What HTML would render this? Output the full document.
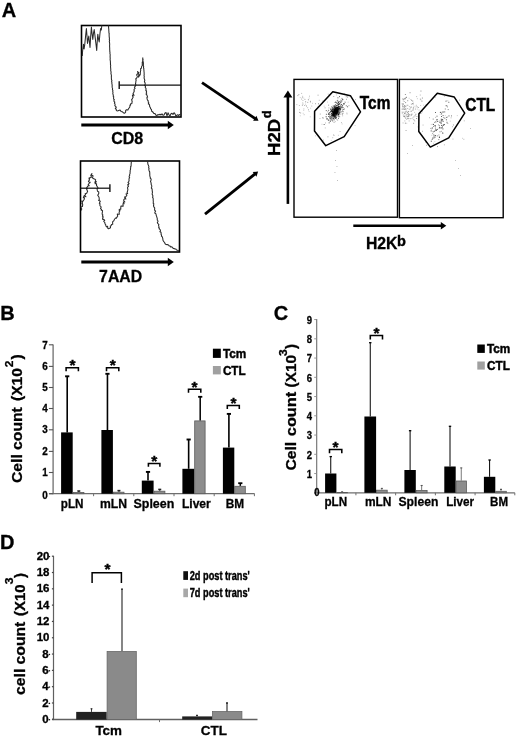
<!DOCTYPE html>
<html><head><meta charset="utf-8"><title>figure</title>
<style>html,body{margin:0;padding:0;background:#fff;font-family:"Liberation Sans",sans-serif;}svg{display:block;will-change:transform;opacity:0.999}</style></head>
<body>
<svg width="520" height="737" viewBox="0 0 520 737" font-family="Liberation Sans, sans-serif" font-weight="bold">
<rect width="520" height="737" fill="#fff"/>
<defs><clipPath id="c1"><rect x="81.5" y="25.5" width="99.5" height="91.5"/></clipPath><clipPath id="c2"><rect x="80.5" y="161" width="99" height="91"/></clipPath></defs>
<text x="1.7" y="17.3" font-size="20" text-anchor="start" fill="#000" stroke="#000" stroke-width="0.3" >A</text>
<text x="0.3" y="319.8" font-size="20" text-anchor="start" fill="#000" stroke="#000" stroke-width="0.3" >B</text>
<text x="273.8" y="320.2" font-size="20" text-anchor="start" fill="#000" stroke="#000" stroke-width="0.3" >C</text>
<text x="0.1" y="548.8" font-size="20" text-anchor="start" fill="#000" stroke="#000" stroke-width="0.3" >D</text>
<rect x="81.50" y="25.50" width="99.50" height="91.50" fill="none" stroke="#000" stroke-width="1.6"/>
<polyline points="82.3,56.0 82.6,51.0 83.5,44.2 84.1,49.0 84.7,45.0 85.6,36.0 86.4,28.5 87.0,36.0 87.5,43.5 88.2,39.0 88.8,36.0 89.4,42.0 90.0,47.5 90.7,36.0 91.4,27.1 92.1,34.0 92.8,39.5 93.5,33.0 94.2,29.5 95.0,36.0 95.7,42.0 96.2,46.0 96.7,50.5 97.2,42.0 97.8,34.2 98.5,39.0 99.2,42.0 99.9,34.0 100.6,28.5 101.3,30.0 102.1,23.0 108.3,23.0 108.3,23.0 108.4,23.9 108.4,24.8 108.5,25.8 108.6,26.7 108.6,27.6 108.7,28.5 108.8,29.4 108.8,30.5 108.9,31.4 108.9,32.1 109.0,33.2 109.2,33.9 109.1,35.0 109.2,36.0 109.2,37.0 109.4,37.8 109.4,38.8 109.3,39.5 109.6,40.4 109.3,41.4 109.5,42.3 109.6,43.2 109.7,44.2 109.6,45.2 109.6,46.1 109.6,47.0 109.7,47.7 109.7,48.9 109.7,49.7 109.8,50.5 109.8,51.5 110.0,52.2 109.9,53.4 110.2,54.3 110.1,55.0 110.2,56.1 110.0,56.8 110.2,57.7 110.2,58.7 110.1,59.8 110.3,60.7 110.4,61.4 110.4,62.3 110.5,63.3 110.4,64.2 110.7,65.3 110.6,66.2 110.5,67.0 110.7,67.9 110.7,68.8 110.8,69.7 110.7,70.6 111.0,71.6 111.1,72.3 110.9,73.3 111.1,74.0 111.3,75.1 111.5,76.0 111.3,76.7 111.4,77.8 111.4,78.7 111.5,79.7 111.9,80.3 111.6,81.6 111.9,82.3 111.8,83.1 112.0,84.0 112.1,85.0 112.2,85.9 112.1,86.7 112.3,87.9 112.6,88.6 112.4,89.5 112.9,90.5 112.7,91.3 113.0,92.3 112.8,93.3 112.9,94.1 113.4,95.2 113.1,96.1 113.7,96.7 113.6,97.7 113.6,99.1 114.3,99.5 113.9,100.7 114.0,101.4 114.9,102.1 114.4,103.1 115.0,104.0 115.1,104.9 114.8,105.7 116.3,107.1 115.3,108.5 116.3,109.2 116.1,109.8 117.1,110.9 118.1,110.8 119.3,110.3 120.1,110.1 121.1,111.5 122.2,111.7 123.8,113.1 124.7,113.2 125.6,112.2 125.7,110.3 126.5,109.7 127.9,110.0 128.1,109.6 129.0,108.1 129.1,107.9 129.8,107.0 130.0,105.1 130.6,105.2 130.4,104.0 131.9,103.5 132.1,101.5 132.2,101.5 131.6,99.7 132.1,99.2 132.5,98.3 133.2,96.9 132.4,95.9 132.7,95.0 134.1,95.3 133.0,93.7 133.5,92.7 133.8,92.2 134.3,91.0 134.0,90.0 134.1,89.3 135.1,88.4 134.4,87.1 134.9,86.7 135.7,85.6 135.8,84.9 135.5,83.6 135.7,83.0 135.8,82.0 136.0,80.5 136.2,80.2 135.7,78.8 136.4,78.4 137.3,77.0 137.4,76.6 136.7,75.1 136.8,74.5 137.6,73.8 138.0,72.7 137.5,71.6 138.5,72.4 138.8,72.8 138.2,73.9 139.2,74.6 138.5,75.9 138.6,77.2 138.9,76.3 139.8,75.4 140.3,74.2 140.3,72.6 140.4,72.1 140.6,70.7 140.8,70.5 140.5,68.7 141.4,68.3 141.5,66.7 142.0,66.0 142.3,65.0 142.2,64.1 142.3,63.2 142.2,62.3 142.7,61.4 142.7,60.4 142.7,59.6 142.8,58.6 142.8,57.7 142.7,58.5 143.1,59.6 142.8,60.5 143.1,61.5 143.3,62.3 143.4,63.3 143.4,64.1 143.3,65.4 143.6,66.2 143.6,67.2 143.5,67.9 143.9,68.7 143.8,69.8 144.0,70.7 144.0,71.9 144.2,73.0 144.1,73.7 144.2,74.8 144.0,75.6 144.3,76.6 144.1,77.4 144.2,78.7 144.5,79.1 144.8,80.4 144.5,81.5 144.4,81.9 145.1,82.8 145.2,84.1 144.7,85.3 145.4,86.1 145.5,86.6 145.2,87.3 146.1,88.8 146.0,89.3 145.8,90.5 146.6,91.0 146.3,92.2 146.7,93.1 146.0,94.0 146.7,94.6 147.2,96.0 147.6,97.1 146.9,97.5 147.1,98.8 147.5,100.1 148.3,100.8 148.1,102.0 148.8,102.8 148.3,103.9 149.2,104.2 149.6,105.4 149.7,106.8 150.2,107.2 150.6,108.6 151.5,109.6 151.5,110.0 151.7,111.2 152.9,112.0 153.2,112.7 153.8,113.4 154.6,113.5 155.6,114.2 156.0,115.3 157.1,115.5 157.9,114.5 159.1,114.9 160.0,114.3 161.0,115.0 162.0,113.9 163.0,115.3 164.0,115.0 165.0,112.9 166.0,112.5 167.0,115.9 168.0,112.8 169.0,114.8 170.0,115.9 171.0,113.8 172.0,113.3 173.0,114.5 174.0,112.7 175.0,113.9 175.9,116.1 176.8,115.3 177.8,114.7 178.7,115.6 179.6,114.5 180.6,114.5" fill="none" stroke="#2a2a2a" stroke-width="1.05" stroke-linejoin="round" clip-path="url(#c1)" />
<line x1="119.2" y1="85.1" x2="181" y2="85.1" stroke="#111" stroke-width="1.25" />
<line x1="119.2" y1="81.3" x2="119.2" y2="89.1" stroke="#111" stroke-width="1.4" />
<line x1="81.3" y1="125" x2="168.8" y2="125" stroke="#000" stroke-width="3" />
<polygon points="173.8,125 167.8,120.75 167.8,129.25" fill="#000"/>
<text x="111.2" y="144.1" font-size="16" text-anchor="start" fill="#000" stroke="#000" stroke-width="0.3" >CD8</text>
<rect x="80.50" y="161.00" width="99.00" height="91.00" fill="none" stroke="#000" stroke-width="1.6"/>
<polyline points="81.1,210.3 81.6,209.7 81.7,208.7 80.5,206.8 82.5,206.4 82.7,204.4 81.9,203.5 82.5,203.2 81.7,201.0 82.6,201.6 84.1,199.5 84.4,198.7 84.3,197.6 83.3,197.8 84.0,195.8 86.0,196.8 84.7,195.6 85.6,194.4 85.2,193.7 86.7,193.3 87.6,191.2 86.7,189.5 86.5,188.1 87.3,188.6 86.7,187.7 87.8,186.1 89.3,185.8 88.2,184.6 89.4,183.0 90.2,182.2 89.9,182.8 88.4,181.3 89.4,180.1 89.0,178.1 89.6,178.8 89.9,177.5 91.5,177.2 90.7,175.1 91.2,174.8 92.0,173.6 91.2,175.1 92.9,175.7 93.1,175.7 92.5,177.9 93.3,178.6 93.7,178.7 94.9,179.2 95.7,179.8 94.9,182.7 96.3,181.5 95.1,183.8 96.6,183.7 96.5,185.7 96.9,186.0 97.8,187.5 98.1,187.9 97.0,188.7 97.4,190.7 97.8,191.4 98.7,191.7 98.8,193.2 98.7,193.6 97.7,195.2 97.9,195.5 98.7,196.7 98.9,197.0 99.1,197.7 99.3,199.7 98.5,200.3 99.4,200.7 100.3,201.3 99.3,203.3 100.2,203.9 99.7,204.8 100.1,205.8 100.8,206.5 101.2,207.0 100.5,208.4 101.6,209.6 101.2,210.1 102.6,210.7 102.4,211.9 102.2,213.2 102.1,214.2 102.9,214.8 102.4,216.2 103.3,217.0 102.6,217.9 102.7,219.4 103.8,219.3 104.7,220.4 103.7,221.2 104.5,222.3 104.8,222.3 105.0,223.8 105.6,224.5 106.0,226.0 106.4,226.9 107.6,226.3 107.8,228.4 108.4,228.8 110.2,228.0 110.5,227.4 110.3,226.0 111.2,225.7 111.4,224.5 112.2,224.4 112.8,224.1 112.6,223.4 112.7,221.6 113.6,221.0 113.8,220.8 114.7,218.9 115.5,218.4 115.9,217.9 116.4,218.2 117.2,216.7 117.7,216.2 117.3,214.1 118.2,214.2 119.3,214.2 119.1,212.0 120.0,210.7 119.0,210.0 120.4,208.8 120.8,209.2 120.8,207.3 120.9,206.1 122.8,206.1 123.2,206.2 122.9,203.8 124.1,203.8 123.3,202.1 124.9,202.0 123.7,200.5 123.7,199.8 124.8,198.6 125.9,199.1 124.5,197.0 125.5,197.1 126.9,195.2 126.0,193.9 127.7,193.5 127.1,192.7 127.3,192.0 127.7,190.3 127.9,189.7 127.7,188.7 127.5,187.9 127.9,186.8 128.5,186.3 127.6,184.8 128.3,184.7 129.0,183.5 128.0,182.6 128.7,181.6 129.1,180.8 129.0,180.1 129.0,178.7 129.6,177.7 129.2,177.2 129.2,176.2 129.8,175.1 129.6,174.4 130.2,173.1 130.0,172.4 130.2,171.3 130.1,170.5 130.6,169.4 130.4,168.8 130.8,167.9 130.5,166.9 131.1,166.2 131.1,164.8 131.2,164.0 131.2,163.3 131.3,162.2 131.4,161.4 131.5,160.4 131.6,159.5 132.5,159.5 133.4,159.5 134.3,159.5 135.2,159.5 136.1,159.5 137.0,159.5 137.9,159.5 138.8,159.5 139.8,159.5 140.7,159.5 141.6,159.5 142.5,159.5 143.4,159.5 144.3,159.5 145.2,159.5 146.1,159.5 147.0,159.5 147.2,160.4 147.5,161.4 147.7,162.2 147.8,163.2 147.9,164.2 148.4,165.2 148.7,166.1 148.9,166.7 148.6,167.9 149.1,168.5 148.8,169.7 149.0,170.3 149.3,171.3 149.8,172.1 149.6,173.1 149.9,173.8 149.7,175.1 149.9,175.8 150.0,176.8 150.4,177.7 150.3,178.4 151.1,179.0 151.1,180.0 150.5,181.4 150.8,181.9 151.2,183.6 151.1,184.2 151.4,184.9 151.8,185.9 151.7,187.0 151.3,187.9 152.0,188.9 152.2,189.8 152.2,191.0 152.5,192.2 152.3,193.2 152.1,194.0 152.5,195.1 152.9,195.8 152.8,196.7 152.5,197.3 153.1,198.1 153.2,199.1 153.2,200.7 153.3,201.1 153.3,202.1 153.2,203.4 153.8,203.8 153.5,205.4 153.8,206.0 153.6,206.6 154.8,208.0 154.6,208.4 154.6,210.2 154.9,210.5 155.6,211.1 154.8,212.7 155.0,213.2 156.0,213.9 156.1,214.8 156.5,216.1 156.7,216.6 157.2,218.4 157.3,218.9 157.2,219.9 157.8,220.5 158.0,221.6 157.3,222.8 157.6,223.3 158.9,224.3 158.5,225.4 158.9,226.3 158.7,227.7 159.5,228.0 159.1,228.8 160.2,229.6 160.5,231.0 159.9,231.7 161.0,232.2 161.1,233.1 161.1,234.6 161.6,234.9 161.4,236.0 162.3,236.8 162.5,237.6 162.8,238.6 162.9,239.8 163.2,240.8 163.8,241.6 164.6,242.5 165.0,243.6 165.5,244.3 166.6,244.6 167.4,244.6 168.4,244.9 169.2,246.0 170.1,246.1 170.7,247.1 171.8,246.8 172.6,247.4 173.2,248.6 174.1,248.5 175.0,248.9 175.9,249.1 176.6,250.0 177.4,250.2 178.3,250.6 179.1,251.1" fill="none" stroke="#2a2a2a" stroke-width="1.05" stroke-linejoin="round" clip-path="url(#c2)" />
<line x1="80.7" y1="188.2" x2="109.9" y2="188.2" stroke="#111" stroke-width="1.25" />
<line x1="109.9" y1="184.2" x2="109.9" y2="192" stroke="#111" stroke-width="1.4" />
<line x1="81.3" y1="262" x2="168.8" y2="262" stroke="#000" stroke-width="3" />
<polygon points="173.8,262 167.8,257.75 167.8,266.25" fill="#000"/>
<text x="99.1" y="281.8" font-size="16" text-anchor="start" fill="#000" stroke="#000" stroke-width="0.3"  textLength="43" lengthAdjust="spacingAndGlyphs">7AAD</text>
<line x1="202" y1="82.7" x2="255.5981368138376" y2="118.84316836472945" stroke="#000" stroke-width="2.8" />
<polygon points="258.5,120.8 253.1,120.8 256.4,115.8" fill="#000"/>
<line x1="205" y1="214.2" x2="255.3724802718568" y2="173.69331624089858" stroke="#000" stroke-width="2.8" />
<polygon points="258.1,171.5 256.5,176.7 252.7,172.0" fill="#000"/>
<line x1="287.9" y1="203.9" x2="287.9" y2="96" stroke="#000" stroke-width="2.6" />
<polygon points="287.9,90.5 283.4,97.5 292.4,97.5" fill="#000"/>
<g transform="translate(279.8,155.9) rotate(-90)">
<text transform="translate(0.00,0) scale(1.1625,1)" font-size="16" fill="#000" stroke="#000" stroke-width="0.3">H2D</text>
<text transform="translate(37.60,-8.9) scale(1.0088,1)" font-size="13" fill="#000" stroke="#000" stroke-width="0.4">d</text>
</g>
<rect x="294.00" y="79.40" width="103.50" height="137.80" fill="none" stroke="#000" stroke-width="1.4"/>
<rect x="399.40" y="79.40" width="103.80" height="138.30" fill="none" stroke="#000" stroke-width="1.4"/>
<rect x="333.5" y="120.4" width="0.9" height="0.9" fill="rgb(175,175,175)"/>
<rect x="333.5" y="134.9" width="0.9" height="0.9" fill="rgb(150,150,150)"/>
<rect x="322.6" y="118.1" width="0.9" height="0.9" fill="rgb(195,195,195)"/>
<rect x="340.2" y="102.1" width="0.9" height="0.9" fill="rgb(175,175,175)"/>
<rect x="327.4" y="97.4" width="0.9" height="0.9" fill="rgb(195,195,195)"/>
<rect x="341.0" y="122.2" width="0.9" height="0.9" fill="rgb(175,175,175)"/>
<rect x="354.6" y="125.0" width="0.9" height="0.9" fill="rgb(195,195,195)"/>
<rect x="341.7" y="123.5" width="0.9" height="0.9" fill="rgb(195,195,195)"/>
<rect x="317.6" y="94.7" width="0.9" height="0.9" fill="rgb(150,150,150)"/>
<rect x="339.6" y="131.1" width="0.9" height="0.9" fill="rgb(175,175,175)"/>
<rect x="333.1" y="134.3" width="0.9" height="0.9" fill="rgb(195,195,195)"/>
<rect x="324.6" y="107.4" width="0.9" height="0.9" fill="rgb(150,150,150)"/>
<rect x="342.2" y="115.4" width="0.9" height="0.9" fill="rgb(175,175,175)"/>
<rect x="331.7" y="120.0" width="0.9" height="0.9" fill="rgb(150,150,150)"/>
<rect x="344.0" y="108.4" width="0.9" height="0.9" fill="rgb(150,150,150)"/>
<rect x="336.0" y="94.5" width="0.9" height="0.9" fill="rgb(195,195,195)"/>
<rect x="346.4" y="112.6" width="0.9" height="0.9" fill="rgb(175,175,175)"/>
<rect x="330.8" y="139.9" width="0.9" height="0.9" fill="rgb(195,195,195)"/>
<rect x="315.0" y="103.3" width="0.9" height="0.9" fill="rgb(150,150,150)"/>
<rect x="334.3" y="141.0" width="0.9" height="0.9" fill="rgb(175,175,175)"/>
<rect x="332.2" y="120.7" width="0.9" height="0.9" fill="rgb(150,150,150)"/>
<rect x="346.9" y="106.2" width="0.9" height="0.9" fill="rgb(150,150,150)"/>
<rect x="327.8" y="93.7" width="0.9" height="0.9" fill="rgb(175,175,175)"/>
<rect x="346.1" y="98.8" width="0.9" height="0.9" fill="rgb(150,150,150)"/>
<rect x="344.0" y="93.5" width="0.9" height="0.9" fill="rgb(175,175,175)"/>
<rect x="347.7" y="101.7" width="0.9" height="0.9" fill="rgb(195,195,195)"/>
<rect x="322.7" y="117.9" width="0.9" height="0.9" fill="rgb(195,195,195)"/>
<rect x="346.6" y="113.5" width="0.9" height="0.9" fill="rgb(175,175,175)"/>
<rect x="319.8" y="113.6" width="0.9" height="0.9" fill="rgb(150,150,150)"/>
<rect x="315.0" y="135.4" width="0.9" height="0.9" fill="rgb(195,195,195)"/>
<rect x="327.5" y="136.4" width="0.9" height="0.9" fill="rgb(150,150,150)"/>
<rect x="322.7" y="141.8" width="0.9" height="0.9" fill="rgb(195,195,195)"/>
<rect x="341.3" y="97.9" width="0.9" height="0.9" fill="rgb(150,150,150)"/>
<rect x="323.7" y="105.7" width="0.9" height="0.9" fill="rgb(195,195,195)"/>
<rect x="328.5" y="107.5" width="0.9" height="0.9" fill="rgb(150,150,150)"/>
<rect x="318.0" y="103.2" width="0.9" height="0.9" fill="rgb(195,195,195)"/>
<rect x="325.0" y="122.5" width="0.9" height="0.9" fill="rgb(175,175,175)"/>
<rect x="340.5" y="99.2" width="0.9" height="0.9" fill="rgb(195,195,195)"/>
<rect x="334.8" y="121.2" width="0.9" height="0.9" fill="rgb(175,175,175)"/>
<rect x="322.5" y="100.6" width="0.9" height="0.9" fill="rgb(150,150,150)"/>
<rect x="348.5" y="105.2" width="0.9" height="0.9" fill="rgb(150,150,150)"/>
<rect x="321.5" y="123.8" width="0.9" height="0.9" fill="rgb(195,195,195)"/>
<rect x="323.1" y="139.6" width="0.9" height="0.9" fill="rgb(175,175,175)"/>
<rect x="339.7" y="113.7" width="0.9" height="0.9" fill="rgb(150,150,150)"/>
<rect x="319.5" y="118.1" width="0.9" height="0.9" fill="rgb(175,175,175)"/>
<rect x="324.8" y="127.5" width="0.9" height="0.9" fill="rgb(175,175,175)"/>
<rect x="332.3" y="137.3" width="0.9" height="0.9" fill="rgb(175,175,175)"/>
<rect x="327.0" y="101.6" width="0.9" height="0.9" fill="rgb(195,195,195)"/>
<rect x="355.1" y="99.2" width="0.9" height="0.9" fill="rgb(175,175,175)"/>
<rect x="337.9" y="134.8" width="0.9" height="0.9" fill="rgb(195,195,195)"/>
<rect x="318.0" y="103.4" width="0.9" height="0.9" fill="rgb(150,150,150)"/>
<rect x="345.7" y="96.4" width="0.9" height="0.9" fill="rgb(175,175,175)"/>
<rect x="333.3" y="96.0" width="0.9" height="0.9" fill="rgb(150,150,150)"/>
<rect x="326.6" y="119.0" width="0.9" height="0.9" fill="rgb(150,150,150)"/>
<rect x="318.8" y="99.8" width="0.9" height="0.9" fill="rgb(175,175,175)"/>
<rect x="312.0" y="102.8" width="0.9" height="0.9" fill="rgb(195,195,195)"/>
<rect x="298.9" y="105.0" width="0.9" height="0.9" fill="rgb(175,175,175)"/>
<rect x="305.1" y="103.7" width="0.9" height="0.9" fill="rgb(195,195,195)"/>
<rect x="305.8" y="105.1" width="0.9" height="0.9" fill="rgb(175,175,175)"/>
<rect x="310.2" y="107.7" width="0.9" height="0.9" fill="rgb(195,195,195)"/>
<rect x="316.4" y="108.2" width="0.9" height="0.9" fill="rgb(195,195,195)"/>
<rect x="301.2" y="92.9" width="0.9" height="0.9" fill="rgb(175,175,175)"/>
<rect x="299.0" y="111.9" width="0.9" height="0.9" fill="rgb(150,150,150)"/>
<rect x="307.9" y="99.1" width="0.9" height="0.9" fill="rgb(150,150,150)"/>
<rect x="308.7" y="97.6" width="0.9" height="0.9" fill="rgb(195,195,195)"/>
<rect x="301.2" y="98.6" width="0.9" height="0.9" fill="rgb(150,150,150)"/>
<rect x="302.3" y="102.3" width="0.9" height="0.9" fill="rgb(195,195,195)"/>
<rect x="307.2" y="107.3" width="0.9" height="0.9" fill="rgb(175,175,175)"/>
<rect x="303.3" y="97.6" width="0.9" height="0.9" fill="rgb(195,195,195)"/>
<rect x="301.9" y="97.2" width="0.9" height="0.9" fill="rgb(175,175,175)"/>
<rect x="305.2" y="101.7" width="0.9" height="0.9" fill="rgb(195,195,195)"/>
<rect x="311.3" y="105.6" width="0.9" height="0.9" fill="rgb(175,175,175)"/>
<rect x="317.7" y="106.3" width="0.9" height="0.9" fill="rgb(150,150,150)"/>
<rect x="296.4" y="104.2" width="0.9" height="0.9" fill="rgb(175,175,175)"/>
<rect x="304.0" y="105.0" width="0.9" height="0.9" fill="rgb(175,175,175)"/>
<rect x="308.7" y="111.0" width="0.9" height="0.9" fill="rgb(195,195,195)"/>
<rect x="309.8" y="116.4" width="0.9" height="0.9" fill="rgb(195,195,195)"/>
<rect x="309.9" y="100.8" width="0.9" height="0.9" fill="rgb(150,150,150)"/>
<rect x="300.2" y="112.5" width="0.9" height="0.9" fill="rgb(150,150,150)"/>
<rect x="297.4" y="95.2" width="0.9" height="0.9" fill="rgb(150,150,150)"/>
<rect x="308.0" y="99.6" width="0.9" height="0.9" fill="rgb(195,195,195)"/>
<rect x="307.3" y="101.9" width="0.9" height="0.9" fill="rgb(150,150,150)"/>
<rect x="309.0" y="95.7" width="0.9" height="0.9" fill="rgb(175,175,175)"/>
<rect x="305.2" y="101.1" width="0.9" height="0.9" fill="rgb(175,175,175)"/>
<rect x="303.4" y="108.5" width="0.9" height="0.9" fill="rgb(175,175,175)"/>
<rect x="299.1" y="109.3" width="0.9" height="0.9" fill="rgb(195,195,195)"/>
<rect x="299.8" y="115.4" width="0.9" height="0.9" fill="rgb(195,195,195)"/>
<rect x="301.9" y="104.8" width="0.9" height="0.9" fill="rgb(150,150,150)"/>
<rect x="302.7" y="112.8" width="0.9" height="0.9" fill="rgb(195,195,195)"/>
<rect x="302.2" y="95.8" width="0.9" height="0.9" fill="rgb(175,175,175)"/>
<rect x="299.8" y="97.2" width="0.9" height="0.9" fill="rgb(195,195,195)"/>
<rect x="308.0" y="109.4" width="0.9" height="0.9" fill="rgb(150,150,150)"/>
<rect x="304.5" y="98.9" width="0.9" height="0.9" fill="rgb(150,150,150)"/>
<rect x="306.0" y="106.1" width="0.9" height="0.9" fill="rgb(195,195,195)"/>
<rect x="298.4" y="94.2" width="0.9" height="0.9" fill="rgb(150,150,150)"/>
<rect x="302.5" y="100.0" width="0.9" height="0.9" fill="rgb(175,175,175)"/>
<rect x="303.7" y="114.3" width="0.9" height="0.9" fill="rgb(175,175,175)"/>
<rect x="302.5" y="103.6" width="0.9" height="0.9" fill="rgb(150,150,150)"/>
<rect x="303.3" y="109.9" width="0.9" height="0.9" fill="rgb(195,195,195)"/>
<rect x="310.1" y="101.5" width="0.9" height="0.9" fill="rgb(150,150,150)"/>
<rect x="333.7" y="119.3" width="0.9" height="0.9" fill="rgb(100,100,100)"/>
<rect x="345.1" y="101.8" width="0.9" height="0.9" fill="rgb(160,160,160)"/>
<rect x="340.0" y="107.6" width="0.9" height="0.9" fill="rgb(60,60,60)"/>
<rect x="334.7" y="116.6" width="0.9" height="0.9" fill="rgb(130,130,130)"/>
<rect x="331.6" y="118.2" width="0.9" height="0.9" fill="rgb(100,100,100)"/>
<rect x="343.8" y="103.5" width="0.9" height="0.9" fill="rgb(60,60,60)"/>
<rect x="342.5" y="111.1" width="0.9" height="0.9" fill="rgb(60,60,60)"/>
<rect x="339.0" y="103.5" width="0.9" height="0.9" fill="rgb(130,130,130)"/>
<rect x="339.2" y="113.4" width="0.9" height="0.9" fill="rgb(60,60,60)"/>
<rect x="335.5" y="112.0" width="0.9" height="0.9" fill="rgb(160,160,160)"/>
<rect x="335.8" y="114.6" width="0.9" height="0.9" fill="rgb(130,130,130)"/>
<rect x="334.7" y="111.5" width="0.9" height="0.9" fill="rgb(60,60,60)"/>
<rect x="334.9" y="111.7" width="0.9" height="0.9" fill="rgb(130,130,130)"/>
<rect x="327.2" y="111.4" width="0.9" height="0.9" fill="rgb(160,160,160)"/>
<rect x="340.3" y="108.0" width="0.9" height="0.9" fill="rgb(160,160,160)"/>
<rect x="338.0" y="103.8" width="0.9" height="0.9" fill="rgb(60,60,60)"/>
<rect x="332.7" y="108.2" width="0.9" height="0.9" fill="rgb(130,130,130)"/>
<rect x="334.5" y="105.1" width="0.9" height="0.9" fill="rgb(100,100,100)"/>
<rect x="328.4" y="119.8" width="0.9" height="0.9" fill="rgb(130,130,130)"/>
<rect x="336.6" y="113.6" width="0.9" height="0.9" fill="rgb(100,100,100)"/>
<rect x="336.2" y="112.0" width="0.9" height="0.9" fill="rgb(130,130,130)"/>
<rect x="332.6" y="112.9" width="0.9" height="0.9" fill="rgb(60,60,60)"/>
<rect x="330.8" y="117.3" width="0.9" height="0.9" fill="rgb(60,60,60)"/>
<rect x="334.3" y="111.6" width="0.9" height="0.9" fill="rgb(160,160,160)"/>
<rect x="323.7" y="124.1" width="0.9" height="0.9" fill="rgb(60,60,60)"/>
<rect x="330.6" y="118.4" width="0.9" height="0.9" fill="rgb(60,60,60)"/>
<rect x="337.5" y="104.1" width="0.9" height="0.9" fill="rgb(160,160,160)"/>
<rect x="337.9" y="112.8" width="0.9" height="0.9" fill="rgb(100,100,100)"/>
<rect x="336.4" y="119.2" width="0.9" height="0.9" fill="rgb(160,160,160)"/>
<rect x="333.6" y="112.6" width="0.9" height="0.9" fill="rgb(160,160,160)"/>
<rect x="325.8" y="116.5" width="0.9" height="0.9" fill="rgb(100,100,100)"/>
<rect x="325.8" y="110.2" width="0.9" height="0.9" fill="rgb(60,60,60)"/>
<rect x="338.0" y="110.0" width="0.9" height="0.9" fill="rgb(130,130,130)"/>
<rect x="336.3" y="113.7" width="0.9" height="0.9" fill="rgb(160,160,160)"/>
<rect x="342.2" y="105.1" width="0.9" height="0.9" fill="rgb(60,60,60)"/>
<rect x="335.2" y="104.0" width="0.9" height="0.9" fill="rgb(100,100,100)"/>
<rect x="328.2" y="110.2" width="0.9" height="0.9" fill="rgb(60,60,60)"/>
<rect x="334.9" y="115.3" width="0.9" height="0.9" fill="rgb(100,100,100)"/>
<rect x="327.8" y="119.6" width="0.9" height="0.9" fill="rgb(100,100,100)"/>
<rect x="328.1" y="119.7" width="0.9" height="0.9" fill="rgb(100,100,100)"/>
<rect x="340.3" y="111.9" width="0.9" height="0.9" fill="rgb(130,130,130)"/>
<rect x="336.4" y="105.6" width="0.9" height="0.9" fill="rgb(130,130,130)"/>
<rect x="336.0" y="106.8" width="0.9" height="0.9" fill="rgb(100,100,100)"/>
<rect x="335.8" y="107.5" width="0.9" height="0.9" fill="rgb(100,100,100)"/>
<rect x="337.2" y="109.2" width="0.9" height="0.9" fill="rgb(160,160,160)"/>
<rect x="343.3" y="103.8" width="0.9" height="0.9" fill="rgb(160,160,160)"/>
<rect x="329.4" y="117.4" width="0.9" height="0.9" fill="rgb(100,100,100)"/>
<rect x="333.6" y="118.2" width="0.9" height="0.9" fill="rgb(60,60,60)"/>
<rect x="340.9" y="105.8" width="0.9" height="0.9" fill="rgb(130,130,130)"/>
<rect x="339.1" y="96.2" width="0.9" height="0.9" fill="rgb(60,60,60)"/>
<rect x="330.5" y="110.1" width="0.9" height="0.9" fill="rgb(130,130,130)"/>
<rect x="330.3" y="118.2" width="0.9" height="0.9" fill="rgb(100,100,100)"/>
<rect x="333.8" y="106.5" width="0.9" height="0.9" fill="rgb(60,60,60)"/>
<rect x="340.2" y="104.2" width="0.9" height="0.9" fill="rgb(160,160,160)"/>
<rect x="338.0" y="109.0" width="0.9" height="0.9" fill="rgb(100,100,100)"/>
<rect x="337.7" y="109.6" width="0.9" height="0.9" fill="rgb(130,130,130)"/>
<rect x="336.2" y="107.8" width="0.9" height="0.9" fill="rgb(60,60,60)"/>
<rect x="341.7" y="106.8" width="0.9" height="0.9" fill="rgb(60,60,60)"/>
<rect x="333.3" y="108.3" width="0.9" height="0.9" fill="rgb(160,160,160)"/>
<rect x="333.7" y="115.3" width="0.9" height="0.9" fill="rgb(100,100,100)"/>
<rect x="334.7" y="110.7" width="0.9" height="0.9" fill="rgb(60,60,60)"/>
<rect x="335.2" y="107.5" width="0.9" height="0.9" fill="rgb(160,160,160)"/>
<rect x="335.3" y="114.6" width="0.9" height="0.9" fill="rgb(100,100,100)"/>
<rect x="333.5" y="111.6" width="0.9" height="0.9" fill="rgb(60,60,60)"/>
<rect x="335.8" y="111.8" width="0.9" height="0.9" fill="rgb(160,160,160)"/>
<rect x="332.7" y="112.8" width="0.9" height="0.9" fill="rgb(130,130,130)"/>
<rect x="334.3" y="107.6" width="0.9" height="0.9" fill="rgb(60,60,60)"/>
<rect x="330.6" y="107.7" width="0.9" height="0.9" fill="rgb(160,160,160)"/>
<rect x="339.1" y="108.1" width="0.9" height="0.9" fill="rgb(130,130,130)"/>
<rect x="331.6" y="106.5" width="0.9" height="0.9" fill="rgb(160,160,160)"/>
<rect x="337.6" y="110.3" width="0.9" height="0.9" fill="rgb(130,130,130)"/>
<rect x="336.1" y="111.7" width="0.9" height="0.9" fill="rgb(130,130,130)"/>
<rect x="342.1" y="98.7" width="0.9" height="0.9" fill="rgb(60,60,60)"/>
<rect x="342.6" y="112.7" width="0.9" height="0.9" fill="rgb(130,130,130)"/>
<rect x="336.2" y="116.3" width="0.9" height="0.9" fill="rgb(100,100,100)"/>
<rect x="331.7" y="115.0" width="0.9" height="0.9" fill="rgb(160,160,160)"/>
<rect x="329.0" y="113.3" width="0.9" height="0.9" fill="rgb(160,160,160)"/>
<rect x="336.0" y="109.0" width="0.9" height="0.9" fill="rgb(60,60,60)"/>
<rect x="333.2" y="109.2" width="0.9" height="0.9" fill="rgb(160,160,160)"/>
<rect x="329.7" y="119.0" width="0.9" height="0.9" fill="rgb(160,160,160)"/>
<rect x="338.1" y="106.2" width="0.9" height="0.9" fill="rgb(130,130,130)"/>
<rect x="337.0" y="103.5" width="0.9" height="0.9" fill="rgb(160,160,160)"/>
<rect x="338.9" y="103.1" width="0.9" height="0.9" fill="rgb(60,60,60)"/>
<rect x="327.9" y="114.1" width="0.9" height="0.9" fill="rgb(60,60,60)"/>
<rect x="329.6" y="116.9" width="0.9" height="0.9" fill="rgb(60,60,60)"/>
<rect x="333.6" y="122.1" width="0.9" height="0.9" fill="rgb(160,160,160)"/>
<rect x="333.7" y="113.5" width="0.9" height="0.9" fill="rgb(160,160,160)"/>
<rect x="330.2" y="116.5" width="0.9" height="0.9" fill="rgb(160,160,160)"/>
<rect x="337.7" y="104.4" width="0.9" height="0.9" fill="rgb(160,160,160)"/>
<rect x="331.4" y="113.4" width="0.9" height="0.9" fill="rgb(130,130,130)"/>
<rect x="333.0" y="114.5" width="0.9" height="0.9" fill="rgb(130,130,130)"/>
<rect x="328.8" y="112.4" width="0.9" height="0.9" fill="rgb(60,60,60)"/>
<rect x="338.0" y="106.4" width="0.9" height="0.9" fill="rgb(60,60,60)"/>
<rect x="331.1" y="112.6" width="0.9" height="0.9" fill="rgb(160,160,160)"/>
<rect x="338.8" y="106.3" width="0.9" height="0.9" fill="rgb(160,160,160)"/>
<rect x="347.2" y="96.7" width="0.9" height="0.9" fill="rgb(130,130,130)"/>
<rect x="344.3" y="101.6" width="0.9" height="0.9" fill="rgb(160,160,160)"/>
<rect x="333.0" y="109.7" width="0.9" height="0.9" fill="rgb(100,100,100)"/>
<rect x="337.2" y="108.1" width="0.9" height="0.9" fill="rgb(160,160,160)"/>
<rect x="345.8" y="105.3" width="0.9" height="0.9" fill="rgb(100,100,100)"/>
<rect x="333.3" y="111.8" width="0.9" height="0.9" fill="rgb(160,160,160)"/>
<rect x="333.8" y="113.9" width="0.9" height="0.9" fill="rgb(60,60,60)"/>
<rect x="335.4" y="112.8" width="0.9" height="0.9" fill="rgb(130,130,130)"/>
<rect x="332.2" y="118.4" width="0.9" height="0.9" fill="rgb(160,160,160)"/>
<rect x="329.4" y="114.9" width="0.9" height="0.9" fill="rgb(160,160,160)"/>
<rect x="335.1" y="117.9" width="0.9" height="0.9" fill="rgb(100,100,100)"/>
<rect x="339.3" y="101.2" width="0.9" height="0.9" fill="rgb(100,100,100)"/>
<rect x="331.9" y="116.6" width="0.9" height="0.9" fill="rgb(130,130,130)"/>
<rect x="332.8" y="106.4" width="0.9" height="0.9" fill="rgb(130,130,130)"/>
<rect x="338.3" y="113.5" width="0.9" height="0.9" fill="rgb(100,100,100)"/>
<rect x="328.5" y="114.1" width="0.9" height="0.9" fill="rgb(100,100,100)"/>
<rect x="338.2" y="103.7" width="0.9" height="0.9" fill="rgb(100,100,100)"/>
<rect x="335.6" y="108.8" width="0.9" height="0.9" fill="rgb(60,60,60)"/>
<rect x="338.1" y="106.2" width="0.9" height="0.9" fill="rgb(60,60,60)"/>
<rect x="333.5" y="111.4" width="0.9" height="0.9" fill="rgb(130,130,130)"/>
<rect x="337.1" y="108.5" width="0.9" height="0.9" fill="rgb(100,100,100)"/>
<rect x="329.8" y="116.5" width="0.9" height="0.9" fill="rgb(130,130,130)"/>
<rect x="332.6" y="115.2" width="0.9" height="0.9" fill="rgb(130,130,130)"/>
<rect x="336.0" y="117.3" width="0.9" height="0.9" fill="rgb(60,60,60)"/>
<rect x="333.8" y="106.7" width="0.9" height="0.9" fill="rgb(100,100,100)"/>
<rect x="331.8" y="119.3" width="0.9" height="0.9" fill="rgb(160,160,160)"/>
<rect x="334.2" y="106.9" width="0.9" height="0.9" fill="rgb(130,130,130)"/>
<rect x="338.3" y="115.1" width="0.9" height="0.9" fill="rgb(100,100,100)"/>
<rect x="333.7" y="115.4" width="0.9" height="0.9" fill="rgb(60,60,60)"/>
<rect x="333.1" y="115.1" width="0.9" height="0.9" fill="rgb(60,60,60)"/>
<rect x="332.9" y="117.3" width="0.9" height="0.9" fill="rgb(160,160,160)"/>
<rect x="338.0" y="115.7" width="0.9" height="0.9" fill="rgb(60,60,60)"/>
<rect x="338.1" y="117.8" width="0.9" height="0.9" fill="rgb(60,60,60)"/>
<rect x="331.2" y="110.5" width="0.9" height="0.9" fill="rgb(130,130,130)"/>
<rect x="336.5" y="111.7" width="0.9" height="0.9" fill="rgb(130,130,130)"/>
<rect x="331.8" y="111.6" width="0.9" height="0.9" fill="rgb(60,60,60)"/>
<rect x="336.4" y="114.3" width="0.9" height="0.9" fill="rgb(130,130,130)"/>
<rect x="331.7" y="120.1" width="0.9" height="0.9" fill="rgb(130,130,130)"/>
<rect x="333.6" y="114.1" width="0.9" height="0.9" fill="rgb(100,100,100)"/>
<rect x="343.2" y="103.2" width="0.9" height="0.9" fill="rgb(60,60,60)"/>
<rect x="335.2" y="114.9" width="0.9" height="0.9" fill="rgb(160,160,160)"/>
<rect x="332.8" y="105.2" width="0.9" height="0.9" fill="rgb(130,130,130)"/>
<rect x="333.5" y="106.3" width="0.9" height="0.9" fill="rgb(100,100,100)"/>
<rect x="341.8" y="108.7" width="0.9" height="0.9" fill="rgb(130,130,130)"/>
<rect x="334.6" y="107.7" width="0.9" height="0.9" fill="rgb(60,60,60)"/>
<rect x="330.4" y="116.2" width="0.9" height="0.9" fill="rgb(60,60,60)"/>
<rect x="328.1" y="113.3" width="0.9" height="0.9" fill="rgb(60,60,60)"/>
<rect x="331.9" y="113.4" width="0.9" height="0.9" fill="rgb(60,60,60)"/>
<rect x="335.9" y="113.5" width="0.9" height="0.9" fill="rgb(60,60,60)"/>
<rect x="335.9" y="108.0" width="0.9" height="0.9" fill="rgb(100,100,100)"/>
<rect x="343.1" y="104.0" width="0.9" height="0.9" fill="rgb(160,160,160)"/>
<rect x="337.3" y="111.3" width="0.9" height="0.9" fill="rgb(130,130,130)"/>
<rect x="333.1" y="108.1" width="0.9" height="0.9" fill="rgb(130,130,130)"/>
<rect x="334.2" y="107.2" width="0.9" height="0.9" fill="rgb(100,100,100)"/>
<rect x="331.5" y="116.8" width="0.9" height="0.9" fill="rgb(60,60,60)"/>
<rect x="327.9" y="109.7" width="0.9" height="0.9" fill="rgb(160,160,160)"/>
<rect x="328.2" y="104.7" width="0.9" height="0.9" fill="rgb(130,130,130)"/>
<rect x="335.2" y="102.1" width="0.9" height="0.9" fill="rgb(60,60,60)"/>
<rect x="337.5" y="97.4" width="0.9" height="0.9" fill="rgb(60,60,60)"/>
<rect x="329.7" y="118.0" width="0.9" height="0.9" fill="rgb(60,60,60)"/>
<rect x="333.7" y="115.9" width="0.9" height="0.9" fill="rgb(100,100,100)"/>
<rect x="337.0" y="111.1" width="0.9" height="0.9" fill="rgb(160,160,160)"/>
<rect x="332.1" y="110.7" width="0.9" height="0.9" fill="rgb(160,160,160)"/>
<rect x="334.0" y="114.7" width="0.9" height="0.9" fill="rgb(60,60,60)"/>
<rect x="330.9" y="119.1" width="0.9" height="0.9" fill="rgb(130,130,130)"/>
<rect x="328.4" y="113.4" width="0.9" height="0.9" fill="rgb(100,100,100)"/>
<rect x="337.8" y="101.3" width="0.9" height="0.9" fill="rgb(60,60,60)"/>
<rect x="326.3" y="118.3" width="0.9" height="0.9" fill="rgb(60,60,60)"/>
<rect x="336.2" y="112.5" width="0.9" height="0.9" fill="rgb(130,130,130)"/>
<rect x="337.8" y="110.6" width="0.9" height="0.9" fill="rgb(160,160,160)"/>
<rect x="332.4" y="112.6" width="0.9" height="0.9" fill="rgb(100,100,100)"/>
<rect x="336.4" y="105.0" width="0.9" height="0.9" fill="rgb(130,130,130)"/>
<rect x="325.4" y="116.2" width="0.9" height="0.9" fill="rgb(160,160,160)"/>
<rect x="335.3" y="105.0" width="0.9" height="0.9" fill="rgb(160,160,160)"/>
<rect x="336.7" y="105.3" width="0.9" height="0.9" fill="rgb(60,60,60)"/>
<rect x="333.3" y="114.0" width="0.9" height="0.9" fill="rgb(60,60,60)"/>
<rect x="337.1" y="110.5" width="0.9" height="0.9" fill="rgb(160,160,160)"/>
<rect x="340.5" y="100.5" width="0.9" height="0.9" fill="rgb(130,130,130)"/>
<rect x="334.8" y="109.2" width="0.9" height="0.9" fill="rgb(100,100,100)"/>
<rect x="337.3" y="99.8" width="0.9" height="0.9" fill="rgb(130,130,130)"/>
<rect x="333.7" y="114.3" width="0.9" height="0.9" fill="rgb(160,160,160)"/>
<rect x="332.9" y="112.0" width="0.9" height="0.9" fill="rgb(100,100,100)"/>
<rect x="334.2" y="108.9" width="0.9" height="0.9" fill="rgb(100,100,100)"/>
<rect x="322.4" y="117.1" width="0.9" height="0.9" fill="rgb(130,130,130)"/>
<rect x="334.2" y="111.9" width="0.9" height="0.9" fill="rgb(100,100,100)"/>
<rect x="341.5" y="100.5" width="0.9" height="0.9" fill="rgb(100,100,100)"/>
<rect x="335.0" y="108.6" width="0.9" height="0.9" fill="rgb(130,130,130)"/>
<rect x="330.2" y="113.7" width="0.9" height="0.9" fill="rgb(160,160,160)"/>
<rect x="333.9" y="110.3" width="0.9" height="0.9" fill="rgb(130,130,130)"/>
<rect x="337.7" y="107.0" width="0.9" height="0.9" fill="rgb(100,100,100)"/>
<rect x="336.1" y="107.9" width="0.9" height="0.9" fill="rgb(160,160,160)"/>
<rect x="339.6" y="110.5" width="0.9" height="0.9" fill="rgb(160,160,160)"/>
<rect x="343.0" y="107.3" width="0.9" height="0.9" fill="rgb(130,130,130)"/>
<rect x="336.5" y="113.9" width="0.9" height="0.9" fill="rgb(130,130,130)"/>
<rect x="340.2" y="102.4" width="0.9" height="0.9" fill="rgb(60,60,60)"/>
<rect x="335.3" y="117.2" width="0.9" height="0.9" fill="rgb(60,60,60)"/>
<rect x="329.5" y="112.0" width="0.9" height="0.9" fill="rgb(60,60,60)"/>
<rect x="334.8" y="110.5" width="0.9" height="0.9" fill="rgb(160,160,160)"/>
<rect x="331.6" y="109.8" width="0.9" height="0.9" fill="rgb(130,130,130)"/>
<rect x="330.9" y="114.8" width="0.9" height="0.9" fill="rgb(60,60,60)"/>
<rect x="335.3" y="101.4" width="0.9" height="0.9" fill="rgb(100,100,100)"/>
<rect x="336.1" y="107.2" width="0.9" height="0.9" fill="rgb(160,160,160)"/>
<rect x="338.8" y="101.1" width="0.9" height="0.9" fill="rgb(130,130,130)"/>
<rect x="332.2" y="107.9" width="0.9" height="0.9" fill="rgb(60,60,60)"/>
<rect x="337.1" y="111.4" width="0.9" height="0.9" fill="rgb(60,60,60)"/>
<rect x="337.2" y="119.7" width="0.9" height="0.9" fill="rgb(160,160,160)"/>
<rect x="332.6" y="109.5" width="0.9" height="0.9" fill="rgb(160,160,160)"/>
<rect x="337.7" y="108.3" width="0.9" height="0.9" fill="rgb(60,60,60)"/>
<rect x="341.3" y="106.9" width="0.9" height="0.9" fill="rgb(100,100,100)"/>
<rect x="339.2" y="109.4" width="0.9" height="0.9" fill="rgb(160,160,160)"/>
<rect x="333.6" y="111.7" width="0.9" height="0.9" fill="rgb(100,100,100)"/>
<rect x="346.5" y="95.9" width="0.9" height="0.9" fill="rgb(160,160,160)"/>
<rect x="334.9" y="112.3" width="0.9" height="0.9" fill="rgb(160,160,160)"/>
<rect x="336.4" y="107.2" width="0.9" height="0.9" fill="rgb(100,100,100)"/>
<rect x="331.2" y="106.1" width="0.9" height="0.9" fill="rgb(160,160,160)"/>
<rect x="328.7" y="122.4" width="0.9" height="0.9" fill="rgb(60,60,60)"/>
<rect x="331.2" y="109.0" width="0.9" height="0.9" fill="rgb(130,130,130)"/>
<rect x="340.6" y="100.6" width="0.9" height="0.9" fill="rgb(60,60,60)"/>
<rect x="337.0" y="111.5" width="0.9" height="0.9" fill="rgb(130,130,130)"/>
<rect x="333.5" y="111.0" width="0.9" height="0.9" fill="rgb(160,160,160)"/>
<rect x="338.5" y="110.3" width="0.9" height="0.9" fill="rgb(130,130,130)"/>
<rect x="334.2" y="104.9" width="0.9" height="0.9" fill="rgb(100,100,100)"/>
<rect x="338.6" y="112.4" width="0.9" height="0.9" fill="rgb(130,130,130)"/>
<rect x="331.7" y="114.4" width="0.9" height="0.9" fill="rgb(100,100,100)"/>
<rect x="332.7" y="112.8" width="0.9" height="0.9" fill="rgb(100,100,100)"/>
<rect x="334.5" y="111.2" width="0.9" height="0.9" fill="rgb(100,100,100)"/>
<rect x="334.3" y="108.8" width="0.9" height="0.9" fill="rgb(160,160,160)"/>
<rect x="329.0" y="116.2" width="0.9" height="0.9" fill="rgb(130,130,130)"/>
<rect x="343.9" y="103.1" width="0.9" height="0.9" fill="rgb(130,130,130)"/>
<rect x="334.1" y="113.0" width="0.9" height="0.9" fill="rgb(100,100,100)"/>
<rect x="339.1" y="111.8" width="0.9" height="0.9" fill="rgb(60,60,60)"/>
<rect x="332.2" y="113.6" width="0.9" height="0.9" fill="rgb(130,130,130)"/>
<rect x="333.2" y="111.9" width="0.9" height="0.9" fill="rgb(60,60,60)"/>
<rect x="339.2" y="116.3" width="0.9" height="0.9" fill="rgb(100,100,100)"/>
<rect x="333.1" y="108.4" width="0.9" height="0.9" fill="rgb(100,100,100)"/>
<rect x="340.1" y="109.5" width="0.9" height="0.9" fill="rgb(60,60,60)"/>
<rect x="333.0" y="115.8" width="0.9" height="0.9" fill="rgb(100,100,100)"/>
<rect x="337.3" y="115.3" width="0.9" height="0.9" fill="rgb(160,160,160)"/>
<rect x="329.4" y="114.3" width="0.9" height="0.9" fill="rgb(60,60,60)"/>
<rect x="339.5" y="108.7" width="0.9" height="0.9" fill="rgb(60,60,60)"/>
<rect x="339.5" y="108.2" width="0.9" height="0.9" fill="rgb(160,160,160)"/>
<rect x="340.1" y="109.0" width="0.9" height="0.9" fill="rgb(130,130,130)"/>
<rect x="341.8" y="113.6" width="0.9" height="0.9" fill="rgb(60,60,60)"/>
<rect x="334.3" y="110.8" width="0.9" height="0.9" fill="rgb(100,100,100)"/>
<rect x="334.0" y="116.4" width="0.9" height="0.9" fill="rgb(60,60,60)"/>
<rect x="332.6" y="115.8" width="0.9" height="0.9" fill="rgb(160,160,160)"/>
<rect x="332.4" y="108.2" width="0.9" height="0.9" fill="rgb(160,160,160)"/>
<rect x="334.4" y="102.0" width="0.9" height="0.9" fill="rgb(160,160,160)"/>
<rect x="335.0" y="108.3" width="0.9" height="0.9" fill="rgb(60,60,60)"/>
<rect x="336.9" y="103.8" width="0.9" height="0.9" fill="rgb(160,160,160)"/>
<rect x="335.0" y="111.4" width="0.9" height="0.9" fill="rgb(60,60,60)"/>
<rect x="337.6" y="114.5" width="0.9" height="0.9" fill="rgb(160,160,160)"/>
<rect x="331.4" y="108.8" width="0.9" height="0.9" fill="rgb(130,130,130)"/>
<rect x="336.8" y="100.0" width="0.9" height="0.9" fill="rgb(100,100,100)"/>
<rect x="340.0" y="107.4" width="0.9" height="0.9" fill="rgb(160,160,160)"/>
<rect x="338.6" y="104.0" width="0.9" height="0.9" fill="rgb(60,60,60)"/>
<rect x="332.7" y="113.8" width="0.9" height="0.9" fill="rgb(130,130,130)"/>
<rect x="325.9" y="113.8" width="0.9" height="0.9" fill="rgb(60,60,60)"/>
<rect x="340.7" y="101.7" width="0.9" height="0.9" fill="rgb(130,130,130)"/>
<rect x="335.7" y="105.2" width="0.9" height="0.9" fill="rgb(100,100,100)"/>
<rect x="340.6" y="111.3" width="0.9" height="0.9" fill="rgb(60,60,60)"/>
<rect x="335.9" y="107.8" width="0.9" height="0.9" fill="rgb(100,100,100)"/>
<rect x="340.6" y="107.0" width="0.9" height="0.9" fill="rgb(160,160,160)"/>
<rect x="337.9" y="106.3" width="0.9" height="0.9" fill="rgb(130,130,130)"/>
<rect x="337.6" y="107.2" width="0.9" height="0.9" fill="rgb(160,160,160)"/>
<rect x="337.2" y="100.7" width="0.9" height="0.9" fill="rgb(160,160,160)"/>
<rect x="341.7" y="107.1" width="0.9" height="0.9" fill="rgb(100,100,100)"/>
<rect x="336.4" y="109.0" width="0.9" height="0.9" fill="rgb(130,130,130)"/>
<rect x="336.9" y="114.2" width="0.9" height="0.9" fill="rgb(160,160,160)"/>
<rect x="335.8" y="106.9" width="0.9" height="0.9" fill="rgb(60,60,60)"/>
<rect x="342.2" y="109.8" width="0.9" height="0.9" fill="rgb(130,130,130)"/>
<rect x="335.6" y="109.3" width="0.9" height="0.9" fill="rgb(100,100,100)"/>
<rect x="332.6" y="113.7" width="0.9" height="0.9" fill="rgb(60,60,60)"/>
<rect x="331.9" y="111.7" width="0.9" height="0.9" fill="rgb(130,130,130)"/>
<rect x="337.4" y="105.8" width="0.9" height="0.9" fill="rgb(160,160,160)"/>
<rect x="333.6" y="110.0" width="0.9" height="0.9" fill="rgb(160,160,160)"/>
<rect x="334.5" y="113.5" width="0.9" height="0.9" fill="rgb(130,130,130)"/>
<rect x="341.8" y="106.1" width="0.9" height="0.9" fill="rgb(130,130,130)"/>
<rect x="338.2" y="109.7" width="0.9" height="0.9" fill="rgb(130,130,130)"/>
<rect x="333.7" y="107.4" width="0.9" height="0.9" fill="rgb(60,60,60)"/>
<rect x="332.4" y="112.8" width="0.9" height="0.9" fill="rgb(130,130,130)"/>
<rect x="336.0" y="106.9" width="0.9" height="0.9" fill="rgb(100,100,100)"/>
<rect x="338.3" y="113.8" width="0.9" height="0.9" fill="rgb(60,60,60)"/>
<rect x="334.4" y="112.4" width="0.9" height="0.9" fill="rgb(60,60,60)"/>
<rect x="334.3" y="111.7" width="0.9" height="0.9" fill="rgb(130,130,130)"/>
<rect x="331.4" y="115.2" width="0.9" height="0.9" fill="rgb(60,60,60)"/>
<rect x="347.2" y="106.4" width="0.9" height="0.9" fill="rgb(100,100,100)"/>
<rect x="337.6" y="111.4" width="0.9" height="0.9" fill="rgb(60,60,60)"/>
<rect x="343.3" y="109.1" width="0.9" height="0.9" fill="rgb(60,60,60)"/>
<rect x="326.1" y="116.1" width="0.9" height="0.9" fill="rgb(160,160,160)"/>
<rect x="342.4" y="99.2" width="0.9" height="0.9" fill="rgb(60,60,60)"/>
<rect x="340.2" y="109.2" width="0.9" height="0.9" fill="rgb(130,130,130)"/>
<rect x="336.5" y="114.5" width="0.9" height="0.9" fill="rgb(60,60,60)"/>
<rect x="331.2" y="116.2" width="0.9" height="0.9" fill="rgb(100,100,100)"/>
<rect x="328.2" y="116.1" width="0.9" height="0.9" fill="rgb(60,60,60)"/>
<rect x="332.3" y="112.4" width="0.9" height="0.9" fill="rgb(160,160,160)"/>
<rect x="332.4" y="113.7" width="0.9" height="0.9" fill="rgb(100,100,100)"/>
<rect x="338.4" y="112.7" width="0.9" height="0.9" fill="rgb(160,160,160)"/>
<rect x="337.0" y="111.6" width="0.9" height="0.9" fill="rgb(60,60,60)"/>
<rect x="327.1" y="118.3" width="0.9" height="0.9" fill="rgb(100,100,100)"/>
<rect x="336.6" y="115.5" width="0.9" height="0.9" fill="rgb(160,160,160)"/>
<rect x="333.8" y="106.2" width="0.9" height="0.9" fill="rgb(130,130,130)"/>
<rect x="335.4" y="109.1" width="0.9" height="0.9" fill="rgb(60,60,60)"/>
<rect x="337.1" y="103.3" width="0.9" height="0.9" fill="rgb(100,100,100)"/>
<rect x="334.0" y="111.1" width="0.9" height="0.9" fill="rgb(160,160,160)"/>
<rect x="337.2" y="108.3" width="1.0" height="1.0" fill="rgb(30,30,30)"/>
<rect x="333.9" y="109.1" width="1.0" height="1.0" fill="rgb(0,0,0)"/>
<rect x="335.2" y="112.5" width="1.0" height="1.0" fill="rgb(60,60,60)"/>
<rect x="331.6" y="110.9" width="1.0" height="1.0" fill="rgb(60,60,60)"/>
<rect x="337.7" y="108.1" width="1.0" height="1.0" fill="rgb(30,30,30)"/>
<rect x="332.4" y="110.6" width="1.0" height="1.0" fill="rgb(0,0,0)"/>
<rect x="339.2" y="108.2" width="1.0" height="1.0" fill="rgb(0,0,0)"/>
<rect x="337.9" y="109.3" width="1.0" height="1.0" fill="rgb(0,0,0)"/>
<rect x="337.3" y="107.6" width="1.0" height="1.0" fill="rgb(0,0,0)"/>
<rect x="338.3" y="108.0" width="1.0" height="1.0" fill="rgb(60,60,60)"/>
<rect x="335.0" y="111.7" width="1.0" height="1.0" fill="rgb(0,0,0)"/>
<rect x="332.1" y="111.2" width="1.0" height="1.0" fill="rgb(0,0,0)"/>
<rect x="335.8" y="111.3" width="1.0" height="1.0" fill="rgb(0,0,0)"/>
<rect x="335.0" y="111.8" width="1.0" height="1.0" fill="rgb(0,0,0)"/>
<rect x="335.3" y="112.8" width="1.0" height="1.0" fill="rgb(0,0,0)"/>
<rect x="337.5" y="107.9" width="1.0" height="1.0" fill="rgb(0,0,0)"/>
<rect x="333.4" y="109.6" width="1.0" height="1.0" fill="rgb(0,0,0)"/>
<rect x="334.0" y="113.5" width="1.0" height="1.0" fill="rgb(0,0,0)"/>
<rect x="334.8" y="115.3" width="1.0" height="1.0" fill="rgb(0,0,0)"/>
<rect x="334.8" y="112.7" width="1.0" height="1.0" fill="rgb(0,0,0)"/>
<rect x="333.8" y="113.5" width="1.0" height="1.0" fill="rgb(60,60,60)"/>
<rect x="333.9" y="109.3" width="1.0" height="1.0" fill="rgb(60,60,60)"/>
<rect x="338.0" y="106.1" width="1.0" height="1.0" fill="rgb(60,60,60)"/>
<rect x="337.3" y="110.6" width="1.0" height="1.0" fill="rgb(0,0,0)"/>
<rect x="337.1" y="108.5" width="1.0" height="1.0" fill="rgb(30,30,30)"/>
<rect x="332.6" y="112.3" width="1.0" height="1.0" fill="rgb(30,30,30)"/>
<rect x="332.9" y="114.1" width="1.0" height="1.0" fill="rgb(0,0,0)"/>
<rect x="336.6" y="111.7" width="1.0" height="1.0" fill="rgb(0,0,0)"/>
<rect x="332.5" y="109.6" width="1.0" height="1.0" fill="rgb(0,0,0)"/>
<rect x="333.4" y="108.6" width="1.0" height="1.0" fill="rgb(0,0,0)"/>
<rect x="337.1" y="108.1" width="1.0" height="1.0" fill="rgb(60,60,60)"/>
<rect x="332.9" y="116.4" width="1.0" height="1.0" fill="rgb(60,60,60)"/>
<rect x="336.2" y="114.1" width="1.0" height="1.0" fill="rgb(0,0,0)"/>
<rect x="336.5" y="112.9" width="1.0" height="1.0" fill="rgb(60,60,60)"/>
<rect x="336.6" y="109.0" width="1.0" height="1.0" fill="rgb(0,0,0)"/>
<rect x="337.2" y="108.2" width="1.0" height="1.0" fill="rgb(60,60,60)"/>
<rect x="332.9" y="115.1" width="1.0" height="1.0" fill="rgb(30,30,30)"/>
<rect x="336.1" y="112.6" width="1.0" height="1.0" fill="rgb(60,60,60)"/>
<rect x="336.9" y="109.8" width="1.0" height="1.0" fill="rgb(30,30,30)"/>
<rect x="333.1" y="113.4" width="1.0" height="1.0" fill="rgb(0,0,0)"/>
<rect x="334.6" y="116.1" width="1.0" height="1.0" fill="rgb(0,0,0)"/>
<rect x="337.6" y="108.8" width="1.0" height="1.0" fill="rgb(0,0,0)"/>
<rect x="339.8" y="108.3" width="1.0" height="1.0" fill="rgb(60,60,60)"/>
<rect x="331.3" y="114.6" width="1.0" height="1.0" fill="rgb(30,30,30)"/>
<rect x="334.6" y="110.8" width="1.0" height="1.0" fill="rgb(0,0,0)"/>
<rect x="333.3" y="112.7" width="1.0" height="1.0" fill="rgb(0,0,0)"/>
<rect x="338.1" y="104.4" width="1.0" height="1.0" fill="rgb(0,0,0)"/>
<rect x="334.6" y="109.4" width="1.0" height="1.0" fill="rgb(60,60,60)"/>
<rect x="338.1" y="108.8" width="1.0" height="1.0" fill="rgb(60,60,60)"/>
<rect x="335.1" y="112.9" width="1.0" height="1.0" fill="rgb(60,60,60)"/>
<rect x="334.1" y="110.5" width="1.0" height="1.0" fill="rgb(60,60,60)"/>
<rect x="338.7" y="110.5" width="1.0" height="1.0" fill="rgb(30,30,30)"/>
<rect x="333.8" y="111.0" width="1.0" height="1.0" fill="rgb(0,0,0)"/>
<rect x="332.1" y="108.8" width="1.0" height="1.0" fill="rgb(0,0,0)"/>
<rect x="334.2" y="112.8" width="1.0" height="1.0" fill="rgb(30,30,30)"/>
<rect x="335.0" y="110.5" width="1.0" height="1.0" fill="rgb(60,60,60)"/>
<rect x="340.4" y="107.3" width="1.0" height="1.0" fill="rgb(60,60,60)"/>
<rect x="336.5" y="111.8" width="1.0" height="1.0" fill="rgb(30,30,30)"/>
<rect x="334.1" y="113.2" width="1.0" height="1.0" fill="rgb(30,30,30)"/>
<rect x="336.0" y="109.9" width="1.0" height="1.0" fill="rgb(30,30,30)"/>
<rect x="336.0" y="106.9" width="1.0" height="1.0" fill="rgb(30,30,30)"/>
<rect x="334.1" y="106.4" width="1.0" height="1.0" fill="rgb(60,60,60)"/>
<rect x="335.0" y="113.0" width="1.0" height="1.0" fill="rgb(30,30,30)"/>
<rect x="338.6" y="106.3" width="1.0" height="1.0" fill="rgb(0,0,0)"/>
<rect x="333.7" y="108.7" width="1.0" height="1.0" fill="rgb(60,60,60)"/>
<rect x="334.6" y="111.1" width="1.0" height="1.0" fill="rgb(0,0,0)"/>
<rect x="334.6" y="106.0" width="1.0" height="1.0" fill="rgb(60,60,60)"/>
<rect x="336.8" y="107.5" width="1.0" height="1.0" fill="rgb(0,0,0)"/>
<rect x="333.8" y="110.8" width="1.0" height="1.0" fill="rgb(60,60,60)"/>
<rect x="335.3" y="117.5" width="1.0" height="1.0" fill="rgb(0,0,0)"/>
<rect x="333.6" y="111.9" width="1.0" height="1.0" fill="rgb(30,30,30)"/>
<rect x="333.9" y="110.8" width="1.0" height="1.0" fill="rgb(0,0,0)"/>
<rect x="338.1" y="102.2" width="1.0" height="1.0" fill="rgb(0,0,0)"/>
<rect x="337.2" y="111.3" width="1.0" height="1.0" fill="rgb(0,0,0)"/>
<rect x="332.5" y="112.3" width="1.0" height="1.0" fill="rgb(30,30,30)"/>
<rect x="336.0" y="111.0" width="1.0" height="1.0" fill="rgb(0,0,0)"/>
<rect x="336.4" y="113.6" width="1.0" height="1.0" fill="rgb(60,60,60)"/>
<rect x="330.2" y="111.2" width="1.0" height="1.0" fill="rgb(0,0,0)"/>
<rect x="338.4" y="109.4" width="1.0" height="1.0" fill="rgb(60,60,60)"/>
<rect x="334.8" y="109.0" width="1.0" height="1.0" fill="rgb(60,60,60)"/>
<rect x="337.1" y="113.0" width="1.0" height="1.0" fill="rgb(60,60,60)"/>
<rect x="336.6" y="111.0" width="1.0" height="1.0" fill="rgb(30,30,30)"/>
<rect x="331.2" y="110.3" width="1.0" height="1.0" fill="rgb(0,0,0)"/>
<rect x="336.3" y="102.4" width="1.0" height="1.0" fill="rgb(0,0,0)"/>
<rect x="335.8" y="108.1" width="1.0" height="1.0" fill="rgb(60,60,60)"/>
<rect x="332.5" y="114.7" width="1.0" height="1.0" fill="rgb(0,0,0)"/>
<rect x="339.8" y="109.0" width="1.0" height="1.0" fill="rgb(60,60,60)"/>
<rect x="337.1" y="108.6" width="1.0" height="1.0" fill="rgb(60,60,60)"/>
<rect x="337.4" y="111.9" width="1.0" height="1.0" fill="rgb(30,30,30)"/>
<rect x="333.8" y="110.3" width="1.0" height="1.0" fill="rgb(30,30,30)"/>
<rect x="335.4" y="108.8" width="1.0" height="1.0" fill="rgb(0,0,0)"/>
<rect x="333.1" y="112.9" width="1.0" height="1.0" fill="rgb(0,0,0)"/>
<rect x="331.1" y="113.2" width="1.0" height="1.0" fill="rgb(0,0,0)"/>
<rect x="337.6" y="109.1" width="1.0" height="1.0" fill="rgb(30,30,30)"/>
<rect x="336.5" y="110.9" width="1.0" height="1.0" fill="rgb(0,0,0)"/>
<rect x="333.1" y="115.1" width="1.0" height="1.0" fill="rgb(0,0,0)"/>
<rect x="336.4" y="111.5" width="1.0" height="1.0" fill="rgb(30,30,30)"/>
<rect x="333.1" y="111.8" width="1.0" height="1.0" fill="rgb(0,0,0)"/>
<rect x="338.8" y="106.6" width="1.0" height="1.0" fill="rgb(0,0,0)"/>
<rect x="335.5" y="108.8" width="1.0" height="1.0" fill="rgb(30,30,30)"/>
<rect x="330.2" y="108.7" width="1.0" height="1.0" fill="rgb(0,0,0)"/>
<rect x="333.9" y="116.8" width="1.0" height="1.0" fill="rgb(60,60,60)"/>
<rect x="336.2" y="110.3" width="1.0" height="1.0" fill="rgb(60,60,60)"/>
<rect x="333.9" y="107.1" width="1.0" height="1.0" fill="rgb(30,30,30)"/>
<rect x="338.1" y="111.2" width="1.0" height="1.0" fill="rgb(60,60,60)"/>
<rect x="331.8" y="107.2" width="1.0" height="1.0" fill="rgb(60,60,60)"/>
<rect x="333.9" y="110.9" width="1.0" height="1.0" fill="rgb(30,30,30)"/>
<rect x="334.9" y="109.5" width="1.0" height="1.0" fill="rgb(0,0,0)"/>
<rect x="335.0" y="107.7" width="1.0" height="1.0" fill="rgb(30,30,30)"/>
<rect x="335.8" y="107.6" width="1.0" height="1.0" fill="rgb(0,0,0)"/>
<rect x="335.5" y="110.9" width="1.0" height="1.0" fill="rgb(0,0,0)"/>
<rect x="336.6" y="111.8" width="1.0" height="1.0" fill="rgb(30,30,30)"/>
<rect x="337.3" y="111.1" width="1.0" height="1.0" fill="rgb(30,30,30)"/>
<rect x="332.6" y="113.6" width="1.0" height="1.0" fill="rgb(0,0,0)"/>
<rect x="340.1" y="105.6" width="1.0" height="1.0" fill="rgb(30,30,30)"/>
<rect x="335.2" y="110.6" width="1.0" height="1.0" fill="rgb(30,30,30)"/>
<rect x="329.8" y="120.6" width="1.0" height="1.0" fill="rgb(0,0,0)"/>
<rect x="337.2" y="107.5" width="1.0" height="1.0" fill="rgb(0,0,0)"/>
<rect x="333.9" y="115.8" width="1.0" height="1.0" fill="rgb(60,60,60)"/>
<rect x="333.9" y="112.2" width="1.0" height="1.0" fill="rgb(30,30,30)"/>
<rect x="338.0" y="113.8" width="1.0" height="1.0" fill="rgb(0,0,0)"/>
<rect x="337.3" y="107.3" width="1.0" height="1.0" fill="rgb(0,0,0)"/>
<rect x="335.9" y="110.4" width="1.0" height="1.0" fill="rgb(0,0,0)"/>
<rect x="332.3" y="114.4" width="1.0" height="1.0" fill="rgb(30,30,30)"/>
<rect x="335.4" y="114.7" width="1.0" height="1.0" fill="rgb(30,30,30)"/>
<rect x="337.9" y="107.9" width="1.0" height="1.0" fill="rgb(0,0,0)"/>
<rect x="337.5" y="108.3" width="1.0" height="1.0" fill="rgb(30,30,30)"/>
<rect x="334.2" y="107.1" width="1.0" height="1.0" fill="rgb(60,60,60)"/>
<rect x="334.3" y="115.7" width="1.0" height="1.0" fill="rgb(0,0,0)"/>
<rect x="336.7" y="107.1" width="1.0" height="1.0" fill="rgb(60,60,60)"/>
<rect x="338.5" y="112.5" width="1.0" height="1.0" fill="rgb(0,0,0)"/>
<rect x="336.4" y="108.9" width="1.0" height="1.0" fill="rgb(30,30,30)"/>
<rect x="335.0" y="113.2" width="1.0" height="1.0" fill="rgb(30,30,30)"/>
<rect x="334.8" y="108.7" width="1.0" height="1.0" fill="rgb(60,60,60)"/>
<rect x="335.4" y="112.5" width="1.0" height="1.0" fill="rgb(30,30,30)"/>
<rect x="333.6" y="112.0" width="1.0" height="1.0" fill="rgb(0,0,0)"/>
<rect x="334.3" y="110.0" width="1.0" height="1.0" fill="rgb(0,0,0)"/>
<rect x="332.2" y="114.3" width="1.0" height="1.0" fill="rgb(0,0,0)"/>
<rect x="335.5" y="111.9" width="1.0" height="1.0" fill="rgb(30,30,30)"/>
<rect x="335.5" y="113.1" width="1.0" height="1.0" fill="rgb(0,0,0)"/>
<rect x="335.2" y="111.4" width="1.0" height="1.0" fill="rgb(0,0,0)"/>
<rect x="336.0" y="113.1" width="1.0" height="1.0" fill="rgb(0,0,0)"/>
<rect x="336.6" y="108.8" width="1.0" height="1.0" fill="rgb(0,0,0)"/>
<rect x="334.7" y="110.0" width="1.0" height="1.0" fill="rgb(30,30,30)"/>
<rect x="332.8" y="118.2" width="1.0" height="1.0" fill="rgb(0,0,0)"/>
<rect x="332.3" y="115.5" width="1.0" height="1.0" fill="rgb(0,0,0)"/>
<rect x="335.2" y="109.8" width="1.0" height="1.0" fill="rgb(60,60,60)"/>
<rect x="336.5" y="107.8" width="1.0" height="1.0" fill="rgb(0,0,0)"/>
<rect x="334.0" y="108.8" width="1.0" height="1.0" fill="rgb(0,0,0)"/>
<rect x="338.6" y="109.1" width="1.0" height="1.0" fill="rgb(60,60,60)"/>
<rect x="335.7" y="109.5" width="1.0" height="1.0" fill="rgb(30,30,30)"/>
<rect x="336.3" y="105.0" width="1.0" height="1.0" fill="rgb(60,60,60)"/>
<rect x="333.0" y="114.2" width="1.0" height="1.0" fill="rgb(0,0,0)"/>
<rect x="339.2" y="108.1" width="1.0" height="1.0" fill="rgb(60,60,60)"/>
<rect x="334.2" y="113.9" width="1.0" height="1.0" fill="rgb(60,60,60)"/>
<rect x="333.6" y="113.3" width="1.0" height="1.0" fill="rgb(0,0,0)"/>
<rect x="334.9" y="111.2" width="1.0" height="1.0" fill="rgb(60,60,60)"/>
<rect x="333.8" y="114.6" width="1.0" height="1.0" fill="rgb(0,0,0)"/>
<rect x="336.0" y="108.8" width="1.0" height="1.0" fill="rgb(60,60,60)"/>
<rect x="335.7" y="112.2" width="1.0" height="1.0" fill="rgb(30,30,30)"/>
<rect x="337.7" y="110.2" width="1.0" height="1.0" fill="rgb(60,60,60)"/>
<rect x="341.1" y="104.1" width="1.0" height="1.0" fill="rgb(60,60,60)"/>
<rect x="336.9" y="109.5" width="1.0" height="1.0" fill="rgb(0,0,0)"/>
<rect x="334.7" y="106.6" width="1.0" height="1.0" fill="rgb(30,30,30)"/>
<rect x="336.0" y="109.4" width="1.0" height="1.0" fill="rgb(0,0,0)"/>
<rect x="334.0" y="110.4" width="1.0" height="1.0" fill="rgb(30,30,30)"/>
<rect x="333.8" y="114.2" width="1.0" height="1.0" fill="rgb(60,60,60)"/>
<rect x="337.0" y="110.4" width="1.0" height="1.0" fill="rgb(0,0,0)"/>
<rect x="338.3" y="107.7" width="1.0" height="1.0" fill="rgb(60,60,60)"/>
<rect x="335.5" y="109.5" width="1.0" height="1.0" fill="rgb(60,60,60)"/>
<rect x="334.8" y="108.7" width="1.1" height="1.1" fill="rgb(0,0,0)"/>
<rect x="332.8" y="113.3" width="1.1" height="1.1" fill="rgb(0,0,0)"/>
<rect x="334.8" y="110.3" width="1.1" height="1.1" fill="rgb(0,0,0)"/>
<rect x="335.1" y="111.4" width="1.1" height="1.1" fill="rgb(0,0,0)"/>
<rect x="336.0" y="109.7" width="1.1" height="1.1" fill="rgb(0,0,0)"/>
<rect x="335.0" y="108.3" width="1.1" height="1.1" fill="rgb(0,0,0)"/>
<rect x="335.9" y="110.4" width="1.1" height="1.1" fill="rgb(0,0,0)"/>
<rect x="334.9" y="113.5" width="1.1" height="1.1" fill="rgb(0,0,0)"/>
<rect x="332.5" y="112.2" width="1.1" height="1.1" fill="rgb(0,0,0)"/>
<rect x="338.5" y="107.9" width="1.1" height="1.1" fill="rgb(0,0,0)"/>
<rect x="336.6" y="111.0" width="1.1" height="1.1" fill="rgb(0,0,0)"/>
<rect x="335.1" y="108.6" width="1.1" height="1.1" fill="rgb(0,0,0)"/>
<rect x="336.7" y="110.9" width="1.1" height="1.1" fill="rgb(0,0,0)"/>
<rect x="335.0" y="111.1" width="1.1" height="1.1" fill="rgb(0,0,0)"/>
<rect x="335.3" y="111.8" width="1.1" height="1.1" fill="rgb(0,0,0)"/>
<rect x="334.1" y="111.2" width="1.1" height="1.1" fill="rgb(0,0,0)"/>
<rect x="333.3" y="112.0" width="1.1" height="1.1" fill="rgb(0,0,0)"/>
<rect x="335.7" y="110.8" width="1.1" height="1.1" fill="rgb(0,0,0)"/>
<rect x="333.9" y="110.8" width="1.1" height="1.1" fill="rgb(0,0,0)"/>
<rect x="335.7" y="110.5" width="1.1" height="1.1" fill="rgb(0,0,0)"/>
<rect x="335.8" y="108.8" width="1.1" height="1.1" fill="rgb(0,0,0)"/>
<rect x="335.2" y="111.6" width="1.1" height="1.1" fill="rgb(0,0,0)"/>
<rect x="336.4" y="108.7" width="1.1" height="1.1" fill="rgb(0,0,0)"/>
<rect x="334.2" y="110.4" width="1.1" height="1.1" fill="rgb(0,0,0)"/>
<rect x="335.6" y="111.8" width="1.1" height="1.1" fill="rgb(0,0,0)"/>
<rect x="336.8" y="110.2" width="1.1" height="1.1" fill="rgb(0,0,0)"/>
<rect x="334.4" y="113.5" width="1.1" height="1.1" fill="rgb(0,0,0)"/>
<rect x="334.8" y="112.4" width="1.1" height="1.1" fill="rgb(0,0,0)"/>
<rect x="333.0" y="114.0" width="1.1" height="1.1" fill="rgb(0,0,0)"/>
<rect x="335.4" y="112.7" width="1.1" height="1.1" fill="rgb(0,0,0)"/>
<rect x="336.3" y="111.3" width="1.1" height="1.1" fill="rgb(0,0,0)"/>
<rect x="336.4" y="112.4" width="1.1" height="1.1" fill="rgb(0,0,0)"/>
<rect x="336.3" y="112.4" width="1.1" height="1.1" fill="rgb(0,0,0)"/>
<rect x="333.8" y="110.9" width="1.1" height="1.1" fill="rgb(0,0,0)"/>
<rect x="335.5" y="109.4" width="1.1" height="1.1" fill="rgb(0,0,0)"/>
<rect x="333.9" y="110.2" width="1.1" height="1.1" fill="rgb(0,0,0)"/>
<rect x="334.9" y="111.3" width="1.1" height="1.1" fill="rgb(0,0,0)"/>
<rect x="334.8" y="112.0" width="1.1" height="1.1" fill="rgb(0,0,0)"/>
<rect x="333.9" y="114.4" width="1.1" height="1.1" fill="rgb(0,0,0)"/>
<rect x="336.0" y="112.1" width="1.1" height="1.1" fill="rgb(0,0,0)"/>
<rect x="334.2" y="110.9" width="1.1" height="1.1" fill="rgb(0,0,0)"/>
<rect x="335.0" y="111.6" width="1.1" height="1.1" fill="rgb(0,0,0)"/>
<rect x="335.2" y="109.7" width="1.1" height="1.1" fill="rgb(0,0,0)"/>
<rect x="334.8" y="112.1" width="1.1" height="1.1" fill="rgb(0,0,0)"/>
<rect x="334.3" y="108.7" width="1.1" height="1.1" fill="rgb(0,0,0)"/>
<rect x="333.6" y="111.9" width="1.1" height="1.1" fill="rgb(0,0,0)"/>
<rect x="337.6" y="109.1" width="1.1" height="1.1" fill="rgb(0,0,0)"/>
<rect x="336.2" y="110.0" width="1.1" height="1.1" fill="rgb(0,0,0)"/>
<rect x="335.1" y="112.9" width="1.1" height="1.1" fill="rgb(0,0,0)"/>
<rect x="334.0" y="111.0" width="1.1" height="1.1" fill="rgb(0,0,0)"/>
<rect x="335.5" y="107.4" width="1.1" height="1.1" fill="rgb(0,0,0)"/>
<rect x="336.5" y="109.0" width="1.1" height="1.1" fill="rgb(0,0,0)"/>
<rect x="334.5" y="112.2" width="1.1" height="1.1" fill="rgb(0,0,0)"/>
<rect x="334.5" y="112.1" width="1.1" height="1.1" fill="rgb(0,0,0)"/>
<rect x="333.5" y="111.0" width="1.1" height="1.1" fill="rgb(0,0,0)"/>
<rect x="337.0" y="106.9" width="1.1" height="1.1" fill="rgb(0,0,0)"/>
<rect x="335.9" y="109.4" width="1.1" height="1.1" fill="rgb(0,0,0)"/>
<rect x="334.6" y="109.2" width="1.1" height="1.1" fill="rgb(0,0,0)"/>
<rect x="331.4" y="110.5" width="1.1" height="1.1" fill="rgb(0,0,0)"/>
<rect x="336.3" y="109.7" width="1.1" height="1.1" fill="rgb(0,0,0)"/>
<rect x="335.0" y="160.0" width="0.9" height="0.9" fill="rgb(175,175,175)"/>
<rect x="336.5" y="166.0" width="0.9" height="0.9" fill="rgb(175,175,175)"/>
<rect x="337.0" y="180.0" width="0.9" height="0.9" fill="rgb(175,175,175)"/>
<rect x="336.0" y="150.0" width="0.9" height="0.9" fill="rgb(175,175,175)"/>
<rect x="334.5" y="172.0" width="0.9" height="0.9" fill="rgb(175,175,175)"/>
<rect x="413.4" y="116.5" width="0.9" height="0.9" fill="rgb(150,150,150)"/>
<rect x="414.7" y="106.5" width="0.9" height="0.9" fill="rgb(190,190,190)"/>
<rect x="405.3" y="112.1" width="0.9" height="0.9" fill="rgb(190,190,190)"/>
<rect x="416.2" y="118.1" width="0.9" height="0.9" fill="rgb(120,120,120)"/>
<rect x="408.7" y="120.5" width="0.9" height="0.9" fill="rgb(170,170,170)"/>
<rect x="422.0" y="111.4" width="0.9" height="0.9" fill="rgb(190,190,190)"/>
<rect x="403.3" y="108.3" width="0.9" height="0.9" fill="rgb(170,170,170)"/>
<rect x="421.5" y="100.7" width="0.9" height="0.9" fill="rgb(120,120,120)"/>
<rect x="409.5" y="114.5" width="0.9" height="0.9" fill="rgb(120,120,120)"/>
<rect x="402.2" y="103.6" width="0.9" height="0.9" fill="rgb(120,120,120)"/>
<rect x="408.2" y="111.0" width="0.9" height="0.9" fill="rgb(120,120,120)"/>
<rect x="410.1" y="107.5" width="0.9" height="0.9" fill="rgb(170,170,170)"/>
<rect x="402.8" y="100.6" width="0.9" height="0.9" fill="rgb(190,190,190)"/>
<rect x="406.7" y="104.8" width="0.9" height="0.9" fill="rgb(120,120,120)"/>
<rect x="420.4" y="112.9" width="0.9" height="0.9" fill="rgb(120,120,120)"/>
<rect x="405.8" y="97.0" width="0.9" height="0.9" fill="rgb(150,150,150)"/>
<rect x="413.5" y="105.7" width="0.9" height="0.9" fill="rgb(190,190,190)"/>
<rect x="420.5" y="90.6" width="0.9" height="0.9" fill="rgb(120,120,120)"/>
<rect x="402.8" y="108.8" width="0.9" height="0.9" fill="rgb(150,150,150)"/>
<rect x="402.9" y="103.4" width="0.9" height="0.9" fill="rgb(190,190,190)"/>
<rect x="408.3" y="118.2" width="0.9" height="0.9" fill="rgb(120,120,120)"/>
<rect x="411.1" y="114.6" width="0.9" height="0.9" fill="rgb(120,120,120)"/>
<rect x="408.0" y="113.4" width="0.9" height="0.9" fill="rgb(150,150,150)"/>
<rect x="401.8" y="112.9" width="0.9" height="0.9" fill="rgb(190,190,190)"/>
<rect x="407.0" y="118.2" width="0.9" height="0.9" fill="rgb(150,150,150)"/>
<rect x="412.2" y="103.1" width="0.9" height="0.9" fill="rgb(120,120,120)"/>
<rect x="408.1" y="113.2" width="0.9" height="0.9" fill="rgb(170,170,170)"/>
<rect x="402.3" y="112.1" width="0.9" height="0.9" fill="rgb(190,190,190)"/>
<rect x="412.3" y="117.6" width="0.9" height="0.9" fill="rgb(170,170,170)"/>
<rect x="404.5" y="109.0" width="0.9" height="0.9" fill="rgb(120,120,120)"/>
<rect x="406.6" y="116.4" width="0.9" height="0.9" fill="rgb(170,170,170)"/>
<rect x="407.2" y="112.2" width="0.9" height="0.9" fill="rgb(120,120,120)"/>
<rect x="402.1" y="105.5" width="0.9" height="0.9" fill="rgb(170,170,170)"/>
<rect x="408.7" y="108.7" width="0.9" height="0.9" fill="rgb(190,190,190)"/>
<rect x="402.5" y="98.4" width="0.9" height="0.9" fill="rgb(120,120,120)"/>
<rect x="414.9" y="108.6" width="0.9" height="0.9" fill="rgb(150,150,150)"/>
<rect x="410.5" y="118.1" width="0.9" height="0.9" fill="rgb(170,170,170)"/>
<rect x="405.2" y="102.2" width="0.9" height="0.9" fill="rgb(120,120,120)"/>
<rect x="406.2" y="118.8" width="0.9" height="0.9" fill="rgb(170,170,170)"/>
<rect x="405.7" y="109.4" width="0.9" height="0.9" fill="rgb(170,170,170)"/>
<rect x="416.9" y="98.3" width="0.9" height="0.9" fill="rgb(190,190,190)"/>
<rect x="407.3" y="100.3" width="0.9" height="0.9" fill="rgb(120,120,120)"/>
<rect x="404.9" y="122.7" width="0.9" height="0.9" fill="rgb(120,120,120)"/>
<rect x="407.2" y="112.3" width="0.9" height="0.9" fill="rgb(170,170,170)"/>
<rect x="405.6" y="115.7" width="0.9" height="0.9" fill="rgb(150,150,150)"/>
<rect x="404.9" y="94.1" width="0.9" height="0.9" fill="rgb(120,120,120)"/>
<rect x="413.1" y="108.0" width="0.9" height="0.9" fill="rgb(190,190,190)"/>
<rect x="410.5" y="99.1" width="0.9" height="0.9" fill="rgb(170,170,170)"/>
<rect x="402.9" y="106.4" width="0.9" height="0.9" fill="rgb(150,150,150)"/>
<rect x="402.4" y="107.5" width="0.9" height="0.9" fill="rgb(190,190,190)"/>
<rect x="414.6" y="115.4" width="0.9" height="0.9" fill="rgb(120,120,120)"/>
<rect x="403.5" y="111.7" width="0.9" height="0.9" fill="rgb(150,150,150)"/>
<rect x="409.3" y="115.6" width="0.9" height="0.9" fill="rgb(190,190,190)"/>
<rect x="404.9" y="97.7" width="0.9" height="0.9" fill="rgb(120,120,120)"/>
<rect x="413.2" y="122.8" width="0.9" height="0.9" fill="rgb(120,120,120)"/>
<rect x="404.4" y="98.4" width="0.9" height="0.9" fill="rgb(120,120,120)"/>
<rect x="407.6" y="104.8" width="0.9" height="0.9" fill="rgb(190,190,190)"/>
<rect x="404.0" y="112.9" width="0.9" height="0.9" fill="rgb(120,120,120)"/>
<rect x="406.0" y="114.6" width="0.9" height="0.9" fill="rgb(190,190,190)"/>
<rect x="411.9" y="110.1" width="0.9" height="0.9" fill="rgb(190,190,190)"/>
<rect x="406.3" y="122.8" width="0.9" height="0.9" fill="rgb(190,190,190)"/>
<rect x="416.8" y="108.6" width="0.9" height="0.9" fill="rgb(190,190,190)"/>
<rect x="412.9" y="107.2" width="0.9" height="0.9" fill="rgb(150,150,150)"/>
<rect x="402.8" y="99.2" width="0.9" height="0.9" fill="rgb(120,120,120)"/>
<rect x="404.9" y="112.9" width="0.9" height="0.9" fill="rgb(170,170,170)"/>
<rect x="414.4" y="120.6" width="0.9" height="0.9" fill="rgb(190,190,190)"/>
<rect x="414.2" y="111.9" width="0.9" height="0.9" fill="rgb(190,190,190)"/>
<rect x="409.8" y="118.3" width="0.9" height="0.9" fill="rgb(190,190,190)"/>
<rect x="404.4" y="98.4" width="0.9" height="0.9" fill="rgb(120,120,120)"/>
<rect x="403.9" y="101.1" width="0.9" height="0.9" fill="rgb(170,170,170)"/>
<rect x="407.6" y="116.3" width="0.9" height="0.9" fill="rgb(120,120,120)"/>
<rect x="401.7" y="111.6" width="0.9" height="0.9" fill="rgb(170,170,170)"/>
<rect x="412.9" y="119.0" width="0.9" height="0.9" fill="rgb(190,190,190)"/>
<rect x="404.6" y="106.0" width="0.9" height="0.9" fill="rgb(150,150,150)"/>
<rect x="423.2" y="104.7" width="0.9" height="0.9" fill="rgb(190,190,190)"/>
<rect x="405.3" y="111.3" width="0.9" height="0.9" fill="rgb(150,150,150)"/>
<rect x="401.6" y="103.4" width="0.9" height="0.9" fill="rgb(170,170,170)"/>
<rect x="407.2" y="108.0" width="0.9" height="0.9" fill="rgb(170,170,170)"/>
<rect x="413.0" y="102.7" width="0.9" height="0.9" fill="rgb(170,170,170)"/>
<rect x="412.4" y="108.7" width="0.9" height="0.9" fill="rgb(170,170,170)"/>
<rect x="403.1" y="103.7" width="0.9" height="0.9" fill="rgb(150,150,150)"/>
<rect x="402.8" y="114.5" width="0.9" height="0.9" fill="rgb(170,170,170)"/>
<rect x="413.8" y="119.7" width="0.9" height="0.9" fill="rgb(150,150,150)"/>
<rect x="419.8" y="94.6" width="0.9" height="0.9" fill="rgb(170,170,170)"/>
<rect x="417.6" y="126.5" width="0.9" height="0.9" fill="rgb(170,170,170)"/>
<rect x="416.2" y="96.2" width="0.9" height="0.9" fill="rgb(170,170,170)"/>
<rect x="408.7" y="114.0" width="0.9" height="0.9" fill="rgb(150,150,150)"/>
<rect x="408.9" y="106.2" width="0.9" height="0.9" fill="rgb(170,170,170)"/>
<rect x="404.4" y="120.5" width="0.9" height="0.9" fill="rgb(170,170,170)"/>
<rect x="409.4" y="108.8" width="0.9" height="0.9" fill="rgb(170,170,170)"/>
<rect x="407.2" y="116.1" width="0.9" height="0.9" fill="rgb(150,150,150)"/>
<rect x="411.2" y="100.1" width="0.9" height="0.9" fill="rgb(150,150,150)"/>
<rect x="415.8" y="104.8" width="0.9" height="0.9" fill="rgb(170,170,170)"/>
<rect x="405.2" y="117.9" width="0.9" height="0.9" fill="rgb(170,170,170)"/>
<rect x="408.7" y="97.8" width="0.9" height="0.9" fill="rgb(190,190,190)"/>
<rect x="410.7" y="110.8" width="0.9" height="0.9" fill="rgb(150,150,150)"/>
<rect x="412.6" y="103.9" width="0.9" height="0.9" fill="rgb(170,170,170)"/>
<rect x="404.5" y="105.4" width="0.9" height="0.9" fill="rgb(120,120,120)"/>
<rect x="421.9" y="97.6" width="0.9" height="0.9" fill="rgb(120,120,120)"/>
<rect x="401.7" y="108.7" width="0.9" height="0.9" fill="rgb(120,120,120)"/>
<rect x="404.7" y="117.0" width="0.9" height="0.9" fill="rgb(170,170,170)"/>
<rect x="404.0" y="105.4" width="0.9" height="0.9" fill="rgb(120,120,120)"/>
<rect x="408.0" y="116.0" width="0.9" height="0.9" fill="rgb(150,150,150)"/>
<rect x="416.6" y="106.4" width="0.9" height="0.9" fill="rgb(120,120,120)"/>
<rect x="415.4" y="113.8" width="0.9" height="0.9" fill="rgb(120,120,120)"/>
<rect x="410.7" y="106.4" width="0.9" height="0.9" fill="rgb(190,190,190)"/>
<rect x="419.9" y="98.7" width="0.9" height="0.9" fill="rgb(120,120,120)"/>
<rect x="411.5" y="113.7" width="0.9" height="0.9" fill="rgb(120,120,120)"/>
<rect x="402.4" y="105.7" width="0.9" height="0.9" fill="rgb(120,120,120)"/>
<rect x="407.1" y="114.3" width="0.9" height="0.9" fill="rgb(170,170,170)"/>
<rect x="403.0" y="115.8" width="0.9" height="0.9" fill="rgb(150,150,150)"/>
<rect x="425.7" y="104.3" width="0.9" height="0.9" fill="rgb(150,150,150)"/>
<rect x="413.0" y="109.5" width="0.9" height="0.9" fill="rgb(170,170,170)"/>
<rect x="405.4" y="106.3" width="0.9" height="0.9" fill="rgb(150,150,150)"/>
<rect x="404.0" y="107.4" width="0.9" height="0.9" fill="rgb(120,120,120)"/>
<rect x="404.0" y="116.1" width="0.9" height="0.9" fill="rgb(120,120,120)"/>
<rect x="406.4" y="110.9" width="0.9" height="0.9" fill="rgb(150,150,150)"/>
<rect x="406.1" y="96.8" width="0.9" height="0.9" fill="rgb(120,120,120)"/>
<rect x="405.3" y="108.0" width="0.9" height="0.9" fill="rgb(150,150,150)"/>
<rect x="420.2" y="105.1" width="0.9" height="0.9" fill="rgb(190,190,190)"/>
<rect x="405.7" y="113.7" width="0.9" height="0.9" fill="rgb(190,190,190)"/>
<rect x="418.6" y="109.6" width="0.9" height="0.9" fill="rgb(170,170,170)"/>
<rect x="410.7" y="110.8" width="0.9" height="0.9" fill="rgb(170,170,170)"/>
<rect x="410.7" y="106.8" width="0.9" height="0.9" fill="rgb(150,150,150)"/>
<rect x="410.9" y="103.7" width="0.9" height="0.9" fill="rgb(150,150,150)"/>
<rect x="406.0" y="114.2" width="0.9" height="0.9" fill="rgb(190,190,190)"/>
<rect x="405.6" y="130.0" width="0.9" height="0.9" fill="rgb(150,150,150)"/>
<rect x="402.6" y="122.5" width="0.9" height="0.9" fill="rgb(170,170,170)"/>
<rect x="412.3" y="100.6" width="0.9" height="0.9" fill="rgb(120,120,120)"/>
<rect x="404.4" y="114.7" width="0.9" height="0.9" fill="rgb(170,170,170)"/>
<rect x="417.9" y="107.0" width="0.9" height="0.9" fill="rgb(150,150,150)"/>
<rect x="409.6" y="92.3" width="0.9" height="0.9" fill="rgb(120,120,120)"/>
<rect x="416.5" y="116.0" width="0.9" height="0.9" fill="rgb(150,150,150)"/>
<rect x="404.3" y="109.1" width="0.9" height="0.9" fill="rgb(150,150,150)"/>
<rect x="408.0" y="114.8" width="0.9" height="0.9" fill="rgb(120,120,120)"/>
<rect x="442.6" y="115.1" width="1.0" height="1.0" fill="rgb(100,100,100)"/>
<rect x="434.5" y="136.7" width="1.0" height="1.0" fill="rgb(100,100,100)"/>
<rect x="438.4" y="134.5" width="1.0" height="1.0" fill="rgb(160,160,160)"/>
<rect x="441.1" y="113.4" width="1.0" height="1.0" fill="rgb(70,70,70)"/>
<rect x="430.8" y="140.7" width="1.0" height="1.0" fill="rgb(70,70,70)"/>
<rect x="439.6" y="121.9" width="1.0" height="1.0" fill="rgb(70,70,70)"/>
<rect x="436.7" y="129.0" width="1.0" height="1.0" fill="rgb(70,70,70)"/>
<rect x="446.5" y="121.8" width="1.0" height="1.0" fill="rgb(100,100,100)"/>
<rect x="441.0" y="116.0" width="1.0" height="1.0" fill="rgb(100,100,100)"/>
<rect x="446.3" y="116.9" width="1.0" height="1.0" fill="rgb(70,70,70)"/>
<rect x="440.6" y="123.0" width="1.0" height="1.0" fill="rgb(100,100,100)"/>
<rect x="440.6" y="111.8" width="1.0" height="1.0" fill="rgb(160,160,160)"/>
<rect x="436.8" y="135.4" width="1.0" height="1.0" fill="rgb(130,130,130)"/>
<rect x="448.5" y="115.4" width="1.0" height="1.0" fill="rgb(100,100,100)"/>
<rect x="433.0" y="123.9" width="1.0" height="1.0" fill="rgb(70,70,70)"/>
<rect x="439.0" y="126.8" width="1.0" height="1.0" fill="rgb(70,70,70)"/>
<rect x="440.9" y="127.4" width="1.0" height="1.0" fill="rgb(160,160,160)"/>
<rect x="435.3" y="121.4" width="1.0" height="1.0" fill="rgb(70,70,70)"/>
<rect x="442.1" y="119.0" width="1.0" height="1.0" fill="rgb(70,70,70)"/>
<rect x="445.5" y="100.7" width="1.0" height="1.0" fill="rgb(100,100,100)"/>
<rect x="442.6" y="120.8" width="1.0" height="1.0" fill="rgb(70,70,70)"/>
<rect x="440.9" y="130.8" width="1.0" height="1.0" fill="rgb(160,160,160)"/>
<rect x="437.0" y="146.1" width="1.0" height="1.0" fill="rgb(160,160,160)"/>
<rect x="435.8" y="129.9" width="1.0" height="1.0" fill="rgb(160,160,160)"/>
<rect x="439.2" y="122.0" width="1.0" height="1.0" fill="rgb(160,160,160)"/>
<rect x="434.1" y="130.7" width="1.0" height="1.0" fill="rgb(70,70,70)"/>
<rect x="445.9" y="119.3" width="1.0" height="1.0" fill="rgb(100,100,100)"/>
<rect x="439.1" y="122.0" width="1.0" height="1.0" fill="rgb(160,160,160)"/>
<rect x="436.7" y="119.2" width="1.0" height="1.0" fill="rgb(70,70,70)"/>
<rect x="435.9" y="129.7" width="1.0" height="1.0" fill="rgb(70,70,70)"/>
<rect x="451.0" y="115.4" width="1.0" height="1.0" fill="rgb(130,130,130)"/>
<rect x="441.8" y="126.8" width="1.0" height="1.0" fill="rgb(130,130,130)"/>
<rect x="435.0" y="125.6" width="1.0" height="1.0" fill="rgb(130,130,130)"/>
<rect x="440.9" y="122.2" width="1.0" height="1.0" fill="rgb(160,160,160)"/>
<rect x="434.5" y="135.5" width="1.0" height="1.0" fill="rgb(130,130,130)"/>
<rect x="438.8" y="136.6" width="1.0" height="1.0" fill="rgb(100,100,100)"/>
<rect x="431.9" y="127.6" width="1.0" height="1.0" fill="rgb(100,100,100)"/>
<rect x="433.3" y="135.6" width="1.0" height="1.0" fill="rgb(130,130,130)"/>
<rect x="432.7" y="118.6" width="1.0" height="1.0" fill="rgb(130,130,130)"/>
<rect x="442.6" y="124.8" width="1.0" height="1.0" fill="rgb(100,100,100)"/>
<rect x="434.6" y="125.1" width="1.0" height="1.0" fill="rgb(70,70,70)"/>
<rect x="437.9" y="124.4" width="1.0" height="1.0" fill="rgb(160,160,160)"/>
<rect x="432.1" y="133.1" width="1.0" height="1.0" fill="rgb(160,160,160)"/>
<rect x="431.8" y="127.2" width="1.0" height="1.0" fill="rgb(160,160,160)"/>
<rect x="441.3" y="127.3" width="1.0" height="1.0" fill="rgb(160,160,160)"/>
<rect x="442.9" y="117.1" width="1.0" height="1.0" fill="rgb(160,160,160)"/>
<rect x="441.2" y="119.7" width="1.0" height="1.0" fill="rgb(70,70,70)"/>
<rect x="440.4" y="127.4" width="1.0" height="1.0" fill="rgb(70,70,70)"/>
<rect x="438.9" y="125.0" width="1.0" height="1.0" fill="rgb(160,160,160)"/>
<rect x="437.2" y="120.9" width="1.0" height="1.0" fill="rgb(70,70,70)"/>
<rect x="434.8" y="135.0" width="1.0" height="1.0" fill="rgb(70,70,70)"/>
<rect x="433.3" y="134.3" width="1.0" height="1.0" fill="rgb(130,130,130)"/>
<rect x="439.5" y="131.3" width="1.0" height="1.0" fill="rgb(130,130,130)"/>
<rect x="442.3" y="111.6" width="1.0" height="1.0" fill="rgb(160,160,160)"/>
<rect x="435.0" y="112.0" width="1.0" height="1.0" fill="rgb(100,100,100)"/>
<rect x="430.4" y="127.9" width="1.0" height="1.0" fill="rgb(130,130,130)"/>
<rect x="436.5" y="115.7" width="1.0" height="1.0" fill="rgb(100,100,100)"/>
<rect x="444.3" y="117.6" width="1.0" height="1.0" fill="rgb(100,100,100)"/>
<rect x="447.7" y="109.1" width="1.0" height="1.0" fill="rgb(130,130,130)"/>
<rect x="432.6" y="137.0" width="1.0" height="1.0" fill="rgb(160,160,160)"/>
<rect x="442.6" y="111.5" width="1.0" height="1.0" fill="rgb(70,70,70)"/>
<rect x="440.7" y="118.7" width="1.0" height="1.0" fill="rgb(130,130,130)"/>
<rect x="446.8" y="105.7" width="1.0" height="1.0" fill="rgb(130,130,130)"/>
<rect x="442.0" y="126.3" width="1.0" height="1.0" fill="rgb(130,130,130)"/>
<rect x="444.2" y="111.4" width="1.0" height="1.0" fill="rgb(100,100,100)"/>
<rect x="434.0" y="121.9" width="1.0" height="1.0" fill="rgb(160,160,160)"/>
<rect x="439.9" y="111.9" width="1.0" height="1.0" fill="rgb(70,70,70)"/>
<rect x="425.6" y="141.9" width="1.0" height="1.0" fill="rgb(160,160,160)"/>
<rect x="443.9" y="124.1" width="1.0" height="1.0" fill="rgb(70,70,70)"/>
<rect x="441.2" y="118.9" width="1.0" height="1.0" fill="rgb(100,100,100)"/>
<rect x="443.0" y="124.5" width="1.0" height="1.0" fill="rgb(70,70,70)"/>
<rect x="433.2" y="126.0" width="1.0" height="1.0" fill="rgb(130,130,130)"/>
<rect x="432.4" y="137.8" width="1.0" height="1.0" fill="rgb(70,70,70)"/>
<rect x="430.7" y="130.4" width="1.0" height="1.0" fill="rgb(70,70,70)"/>
<rect x="439.0" y="136.8" width="1.0" height="1.0" fill="rgb(70,70,70)"/>
<rect x="442.3" y="133.0" width="1.0" height="1.0" fill="rgb(130,130,130)"/>
<rect x="444.8" y="108.5" width="1.0" height="1.0" fill="rgb(130,130,130)"/>
<rect x="442.0" y="119.8" width="1.0" height="1.0" fill="rgb(160,160,160)"/>
<rect x="440.7" y="120.6" width="1.0" height="1.0" fill="rgb(70,70,70)"/>
<rect x="431.7" y="138.9" width="1.0" height="1.0" fill="rgb(100,100,100)"/>
<rect x="442.2" y="132.2" width="1.0" height="1.0" fill="rgb(130,130,130)"/>
<rect x="441.1" y="124.9" width="1.0" height="1.0" fill="rgb(70,70,70)"/>
<rect x="438.3" y="139.1" width="1.0" height="1.0" fill="rgb(130,130,130)"/>
<rect x="426.2" y="144.8" width="1.0" height="1.0" fill="rgb(160,160,160)"/>
<rect x="446.8" y="122.9" width="1.0" height="1.0" fill="rgb(160,160,160)"/>
<rect x="439.3" y="120.6" width="1.0" height="1.0" fill="rgb(160,160,160)"/>
<rect x="433.8" y="137.3" width="1.0" height="1.0" fill="rgb(130,130,130)"/>
<rect x="432.7" y="131.2" width="1.0" height="1.0" fill="rgb(70,70,70)"/>
<rect x="435.1" y="129.5" width="1.0" height="1.0" fill="rgb(70,70,70)"/>
<rect x="434.9" y="127.6" width="1.0" height="1.0" fill="rgb(130,130,130)"/>
<rect x="436.0" y="119.4" width="1.0" height="1.0" fill="rgb(130,130,130)"/>
<rect x="442.4" y="128.4" width="1.0" height="1.0" fill="rgb(70,70,70)"/>
<rect x="433.9" y="125.1" width="1.0" height="1.0" fill="rgb(160,160,160)"/>
<rect x="448.3" y="101.8" width="1.0" height="1.0" fill="rgb(100,100,100)"/>
<rect x="445.7" y="105.2" width="1.0" height="1.0" fill="rgb(70,70,70)"/>
<rect x="444.2" y="96.1" width="0.9" height="0.9" fill="rgb(195,195,195)"/>
<rect x="450.6" y="117.4" width="0.9" height="0.9" fill="rgb(170,170,170)"/>
<rect x="463.8" y="120.4" width="0.9" height="0.9" fill="rgb(170,170,170)"/>
<rect x="437.7" y="127.8" width="0.9" height="0.9" fill="rgb(195,195,195)"/>
<rect x="422.0" y="130.8" width="0.9" height="0.9" fill="rgb(170,170,170)"/>
<rect x="430.8" y="123.9" width="0.9" height="0.9" fill="rgb(195,195,195)"/>
<rect x="420.7" y="99.6" width="0.9" height="0.9" fill="rgb(195,195,195)"/>
<rect x="452.1" y="126.3" width="0.9" height="0.9" fill="rgb(170,170,170)"/>
<rect x="462.0" y="137.8" width="0.9" height="0.9" fill="rgb(195,195,195)"/>
<rect x="463.4" y="138.8" width="0.9" height="0.9" fill="rgb(170,170,170)"/>
<rect x="434.8" y="97.1" width="0.9" height="0.9" fill="rgb(195,195,195)"/>
<rect x="452.5" y="138.6" width="0.9" height="0.9" fill="rgb(170,170,170)"/>
<rect x="431.3" y="134.8" width="0.9" height="0.9" fill="rgb(195,195,195)"/>
<rect x="439.7" y="113.9" width="0.9" height="0.9" fill="rgb(195,195,195)"/>
<rect x="429.0" y="117.3" width="0.9" height="0.9" fill="rgb(170,170,170)"/>
<rect x="447.4" y="116.1" width="0.9" height="0.9" fill="rgb(195,195,195)"/>
<rect x="447.4" y="100.4" width="0.9" height="0.9" fill="rgb(195,195,195)"/>
<rect x="447.5" y="123.0" width="0.9" height="0.9" fill="rgb(195,195,195)"/>
<rect x="449.8" y="120.7" width="0.9" height="0.9" fill="rgb(195,195,195)"/>
<rect x="459.0" y="99.7" width="0.9" height="0.9" fill="rgb(170,170,170)"/>
<rect x="433.0" y="131.5" width="0.9" height="0.9" fill="rgb(195,195,195)"/>
<rect x="439.1" y="128.0" width="0.9" height="0.9" fill="rgb(170,170,170)"/>
<rect x="446.4" y="100.2" width="0.9" height="0.9" fill="rgb(195,195,195)"/>
<rect x="444.8" y="115.2" width="0.9" height="0.9" fill="rgb(195,195,195)"/>
<rect x="435.2" y="116.9" width="0.9" height="0.9" fill="rgb(170,170,170)"/>
<rect x="447.0" y="106.8" width="0.9" height="0.9" fill="rgb(195,195,195)"/>
<rect x="433.2" y="142.8" width="0.9" height="0.9" fill="rgb(195,195,195)"/>
<rect x="422.6" y="124.6" width="0.9" height="0.9" fill="rgb(170,170,170)"/>
<rect x="456.8" y="115.2" width="0.9" height="0.9" fill="rgb(195,195,195)"/>
<rect x="452.9" y="124.4" width="0.9" height="0.9" fill="rgb(195,195,195)"/>
<rect x="431.3" y="129.4" width="0.9" height="0.9" fill="rgb(195,195,195)"/>
<rect x="443.9" y="144.4" width="0.9" height="0.9" fill="rgb(170,170,170)"/>
<rect x="453.1" y="124.6" width="0.9" height="0.9" fill="rgb(170,170,170)"/>
<rect x="432.1" y="123.8" width="0.9" height="0.9" fill="rgb(195,195,195)"/>
<rect x="434.4" y="141.2" width="0.9" height="0.9" fill="rgb(195,195,195)"/>
<rect x="455.0" y="160.0" width="0.9" height="0.9" fill="rgb(180,180,180)"/>
<rect x="460.0" y="175.0" width="0.9" height="0.9" fill="rgb(180,180,180)"/>
<rect x="412.0" y="145.0" width="0.9" height="0.9" fill="rgb(180,180,180)"/>
<rect x="407.0" y="153.0" width="0.9" height="0.9" fill="rgb(180,180,180)"/>
<rect x="470.0" y="128.0" width="0.9" height="0.9" fill="rgb(180,180,180)"/>
<rect x="458.0" y="168.0" width="0.9" height="0.9" fill="rgb(180,180,180)"/>
<polygon points="332.8,91.8 350.4,95.7 360.5,111.8 344.2,136.7 325.8,145.7 314.5,131 314.6,111.2" fill="none" stroke="#000" stroke-width="1.5" stroke-linejoin="round"/>
<polygon points="437.3,93.2 454.3,97.1 464.7,113.2 448.7,137.8 430.3,147.1 418.8,131.5 418.9,113.7" fill="none" stroke="#000" stroke-width="1.5" stroke-linejoin="round"/>
<text x="359.8" y="108.9" font-size="18.6" text-anchor="start" fill="#000" stroke="#000" stroke-width="0.5"  textLength="30.6" lengthAdjust="spacingAndGlyphs">Tcm</text>
<text x="465.3" y="110.7" font-size="19" text-anchor="start" fill="#000" stroke="#000" stroke-width="0.5"  textLength="30" lengthAdjust="spacingAndGlyphs">CTL</text>
<line x1="353.3" y1="225.8" x2="441.8" y2="225.8" stroke="#000" stroke-width="2.6" />
<polygon points="446.3,225.8 440.8,222.05 440.8,229.55" fill="#000"/>
<text x="366" y="248.8" font-size="16" text-anchor="start" fill="#000" stroke="#000" stroke-width="0.3"  textLength="31.5" lengthAdjust="spacingAndGlyphs">H2K</text>
<text x="397.0" y="246.3" font-size="14.5" text-anchor="start" fill="#000" stroke="#000" stroke-width="0.4" >b</text>
<line x1="53.1" y1="344.4" x2="53.1" y2="494.2" stroke="#6e6e6e" stroke-width="1.3" />
<line x1="49.1" y1="493.7" x2="254.6" y2="493.7" stroke="#6e6e6e" stroke-width="1.3" />
<line x1="48.9" y1="493.7" x2="53.1" y2="493.7" stroke="#555" stroke-width="1.1" />
<text x="47.8" y="498.49999999999994" font-size="10.8" text-anchor="end" fill="#000" stroke="#000" stroke-width="0.3"  textLength="5.5" lengthAdjust="spacingAndGlyphs">0</text>
<line x1="48.9" y1="472.5" x2="53.1" y2="472.5" stroke="#555" stroke-width="1.1" />
<text x="47.8" y="476.4" font-size="10.8" text-anchor="end" fill="#000" stroke="#000" stroke-width="0.3"  textLength="5.5" lengthAdjust="spacingAndGlyphs">1</text>
<line x1="48.9" y1="451.4" x2="53.1" y2="451.4" stroke="#555" stroke-width="1.1" />
<text x="47.8" y="455.29999999999995" font-size="10.8" text-anchor="end" fill="#000" stroke="#000" stroke-width="0.3"  textLength="5.5" lengthAdjust="spacingAndGlyphs">2</text>
<line x1="48.9" y1="429.8" x2="53.1" y2="429.8" stroke="#555" stroke-width="1.1" />
<text x="47.8" y="433.09999999999997" font-size="10.8" text-anchor="end" fill="#000" stroke="#000" stroke-width="0.3"  textLength="5.5" lengthAdjust="spacingAndGlyphs">3</text>
<line x1="48.9" y1="408.5" x2="53.1" y2="408.5" stroke="#555" stroke-width="1.1" />
<text x="47.8" y="412.4" font-size="10.8" text-anchor="end" fill="#000" stroke="#000" stroke-width="0.3"  textLength="5.5" lengthAdjust="spacingAndGlyphs">4</text>
<line x1="48.9" y1="387.5" x2="53.1" y2="387.5" stroke="#555" stroke-width="1.1" />
<text x="47.8" y="391.4" font-size="10.8" text-anchor="end" fill="#000" stroke="#000" stroke-width="0.3"  textLength="5.5" lengthAdjust="spacingAndGlyphs">5</text>
<line x1="48.9" y1="366.4" x2="53.1" y2="366.4" stroke="#555" stroke-width="1.1" />
<text x="47.8" y="370.29999999999995" font-size="10.8" text-anchor="end" fill="#000" stroke="#000" stroke-width="0.3"  textLength="5.5" lengthAdjust="spacingAndGlyphs">6</text>
<line x1="48.9" y1="344.8" x2="53.1" y2="344.8" stroke="#555" stroke-width="1.1" />
<text x="47.8" y="348.7" font-size="10.8" text-anchor="end" fill="#000" stroke="#000" stroke-width="0.3"  textLength="5.5" lengthAdjust="spacingAndGlyphs">7</text>
<line x1="93.6" y1="493.7" x2="93.6" y2="496.2" stroke="#6e6e6e" stroke-width="1" />
<line x1="133.8" y1="493.7" x2="133.8" y2="496.2" stroke="#6e6e6e" stroke-width="1" />
<line x1="174.0" y1="493.7" x2="174.0" y2="496.2" stroke="#6e6e6e" stroke-width="1" />
<line x1="214.20000000000002" y1="493.7" x2="214.20000000000002" y2="496.2" stroke="#6e6e6e" stroke-width="1" />
<line x1="254.4" y1="493.7" x2="254.4" y2="496.2" stroke="#6e6e6e" stroke-width="1" />
<rect x="61.10" y="432.40" width="11.60" height="61.30" fill="#000"/>
<line x1="67.2" y1="432.4" x2="67.2" y2="376.3" stroke="#000" stroke-width="1.6" />
<line x1="65.10000000000001" y1="376.3" x2="69.3" y2="376.3" stroke="#000" stroke-width="1.9000000000000001" />
<rect x="73.10" y="492.40" width="10.80" height="1.30" fill="#8d8d8d" stroke="#5a5a5a" stroke-width="0.8"/>
<line x1="78.8" y1="492.0" x2="78.8" y2="491.0" stroke="#222" stroke-width="1.2" />
<line x1="77.3" y1="491.0" x2="80.3" y2="491.0" stroke="#222" stroke-width="1.5" />
<rect x="101.40" y="430.00" width="11.50" height="63.70" fill="#000"/>
<line x1="107.45" y1="430.0" x2="107.45" y2="373.8" stroke="#000" stroke-width="1.6" />
<line x1="105.35000000000001" y1="373.8" x2="109.55" y2="373.8" stroke="#000" stroke-width="1.9000000000000001" />
<rect x="113.30" y="492.20" width="10.70" height="1.50" fill="#8d8d8d" stroke="#5a5a5a" stroke-width="0.8"/>
<line x1="118.95" y1="491.8" x2="118.95" y2="490.6" stroke="#222" stroke-width="1.2" />
<line x1="117.45" y1="490.6" x2="120.45" y2="490.6" stroke="#222" stroke-width="1.5" />
<rect x="141.80" y="480.60" width="11.80" height="13.10" fill="#000"/>
<line x1="148.0" y1="480.6" x2="148.0" y2="471.9" stroke="#000" stroke-width="1.6" />
<line x1="145.9" y1="471.9" x2="150.1" y2="471.9" stroke="#000" stroke-width="1.9000000000000001" />
<rect x="154.00" y="491.20" width="10.90" height="2.50" fill="#8d8d8d" stroke="#5a5a5a" stroke-width="0.8"/>
<line x1="159.75" y1="490.8" x2="159.75" y2="489.4" stroke="#222" stroke-width="1.2" />
<line x1="158.25" y1="489.4" x2="161.25" y2="489.4" stroke="#222" stroke-width="1.5" />
<rect x="182.40" y="468.80" width="11.90" height="24.90" fill="#000"/>
<line x1="188.65000000000003" y1="468.8" x2="188.65000000000003" y2="439.5" stroke="#000" stroke-width="1.6" />
<line x1="186.55000000000004" y1="439.5" x2="190.75000000000003" y2="439.5" stroke="#000" stroke-width="1.9000000000000001" />
<rect x="194.70" y="420.90" width="10.40" height="72.80" fill="#8d8d8d" stroke="#5a5a5a" stroke-width="0.8"/>
<line x1="200.20000000000002" y1="420.5" x2="200.20000000000002" y2="396.8" stroke="#000" stroke-width="1.5" />
<line x1="198.10000000000002" y1="396.8" x2="202.3" y2="396.8" stroke="#000" stroke-width="1.8" />
<rect x="222.90" y="447.60" width="11.40" height="46.10" fill="#000"/>
<line x1="228.90000000000003" y1="447.6" x2="228.90000000000003" y2="413.9" stroke="#000" stroke-width="1.6" />
<line x1="226.80000000000004" y1="413.9" x2="231.00000000000003" y2="413.9" stroke="#000" stroke-width="1.9000000000000001" />
<rect x="234.70" y="486.30" width="10.60" height="7.40" fill="#8d8d8d" stroke="#5a5a5a" stroke-width="0.8"/>
<line x1="240.3" y1="485.9" x2="240.3" y2="483.2" stroke="#000" stroke-width="1.5" />
<line x1="238.20000000000002" y1="483.2" x2="242.4" y2="483.2" stroke="#000" stroke-width="1.8" />
<polyline points="66.1,371.3 66.1,367.7 78.4,367.7 78.4,371.3" fill="none" stroke="#000" stroke-width="1.55"/>
<text x="72.4" y="370.3" font-size="15.5" text-anchor="middle" fill="#000" stroke="#000" stroke-width="0.4" >*</text>
<polyline points="106.5,371.3 106.5,367.7 118.8,367.7 118.8,371.3" fill="none" stroke="#000" stroke-width="1.55"/>
<text x="112.7" y="370.3" font-size="15.5" text-anchor="middle" fill="#000" stroke="#000" stroke-width="0.4" >*</text>
<polyline points="148.4,466.7 148.4,463.5 159.9,463.5 159.9,466.7" fill="none" stroke="#000" stroke-width="1.55"/>
<text x="154.2" y="466.3" font-size="15.5" text-anchor="middle" fill="#000" stroke="#000" stroke-width="0.4" >*</text>
<polyline points="188.5,392.8 188.5,389.2 200.8,389.2 200.8,392.8" fill="none" stroke="#000" stroke-width="1.55"/>
<text x="194.5" y="391.8" font-size="15.5" text-anchor="middle" fill="#000" stroke="#000" stroke-width="0.4" >*</text>
<polyline points="227.3,409 227.3,405.4 239.3,405.4 239.3,409" fill="none" stroke="#000" stroke-width="1.55"/>
<text x="233.5" y="408.1" font-size="15.5" text-anchor="middle" fill="#000" stroke="#000" stroke-width="0.4" >*</text>
<text transform="translate(60.80,507.6) scale(0.8978,1)" font-size="13" fill="#000" stroke="#000" stroke-width="0.3">pLN</text>
<text transform="translate(99.90,507.6) scale(0.9380,1)" font-size="13" fill="#000" stroke="#000" stroke-width="0.3">mLN</text>
<text transform="translate(133.50,507.6) scale(0.9568,1)" font-size="13" fill="#000" stroke="#000" stroke-width="0.3">Spleen</text>
<text transform="translate(181.90,507.6) scale(0.9302,1)" font-size="13" fill="#000" stroke="#000" stroke-width="0.3">Liver</text>
<text transform="translate(225.80,507.6) scale(0.9102,1)" font-size="13" fill="#000" stroke="#000" stroke-width="0.3">BM</text>
<rect x="212.90" y="348.70" width="7.90" height="9.20" fill="#000"/>
<text transform="translate(222.90,358) scale(0.8679,1)" font-size="13.6" fill="#000" stroke="#000" stroke-width="0.45">Tcm</text>
<rect x="212.90" y="366.00" width="7.90" height="8.40" fill="#a0a0a0"/>
<text transform="translate(222.90,374.5) scale(0.8619,1)" font-size="13.6" fill="#000" stroke="#000" stroke-width="0.45">CTL</text>
<g transform="translate(22.3,483) rotate(-90) scale(1.035,1)">
<text x="0" y="0" font-size="15.17" text-anchor="start" fill="#000" stroke="#000" stroke-width="0.3" >Cell count</text>
<text x="79.23" y="0" font-size="15.07" text-anchor="start" fill="#000" stroke="#000" stroke-width="0.3" >(X10</text>
<text x="111.79" y="-9.7" font-size="11.59" text-anchor="start" fill="#000" stroke="#000" stroke-width="0.3" >2</text>
<text x="119.23" y="0" font-size="15.07" text-anchor="start" fill="#000" stroke="#000" stroke-width="0.3" >)</text>
</g>
<line x1="316.7" y1="319" x2="316.7" y2="493.3" stroke="#6e6e6e" stroke-width="1.1" />
<line x1="314.2" y1="492.8" x2="514.8" y2="492.8" stroke="#6e6e6e" stroke-width="1.2" />
<line x1="314.2" y1="492.8" x2="316.2" y2="492.8" stroke="#999" stroke-width="1" />
<text x="319.6" y="495.8" font-size="10.8" text-anchor="end" fill="#000" stroke="#000" stroke-width="0.3"  textLength="5.3" lengthAdjust="spacingAndGlyphs">0</text>
<line x1="314.2" y1="473.55" x2="316.2" y2="473.55" stroke="#999" stroke-width="1" />
<text x="312.1" y="477.95" font-size="10.8" text-anchor="end" fill="#000" stroke="#000" stroke-width="0.3"  textLength="5.3" lengthAdjust="spacingAndGlyphs">1</text>
<line x1="314.2" y1="454.3" x2="316.2" y2="454.3" stroke="#999" stroke-width="1" />
<text x="312.1" y="458.7" font-size="10.8" text-anchor="end" fill="#000" stroke="#000" stroke-width="0.3"  textLength="5.3" lengthAdjust="spacingAndGlyphs">2</text>
<line x1="314.2" y1="435.05" x2="316.2" y2="435.05" stroke="#999" stroke-width="1" />
<text x="312.1" y="439.45" font-size="10.8" text-anchor="end" fill="#000" stroke="#000" stroke-width="0.3"  textLength="5.3" lengthAdjust="spacingAndGlyphs">3</text>
<line x1="314.2" y1="415.8" x2="316.2" y2="415.8" stroke="#999" stroke-width="1" />
<text x="312.1" y="420.2" font-size="10.8" text-anchor="end" fill="#000" stroke="#000" stroke-width="0.3"  textLength="5.3" lengthAdjust="spacingAndGlyphs">4</text>
<line x1="314.2" y1="396.55" x2="316.2" y2="396.55" stroke="#999" stroke-width="1" />
<text x="312.1" y="400.95" font-size="10.8" text-anchor="end" fill="#000" stroke="#000" stroke-width="0.3"  textLength="5.3" lengthAdjust="spacingAndGlyphs">5</text>
<line x1="314.2" y1="377.3" x2="316.2" y2="377.3" stroke="#999" stroke-width="1" />
<text x="312.1" y="381.7" font-size="10.8" text-anchor="end" fill="#000" stroke="#000" stroke-width="0.3"  textLength="5.3" lengthAdjust="spacingAndGlyphs">6</text>
<line x1="314.2" y1="358.05" x2="316.2" y2="358.05" stroke="#999" stroke-width="1" />
<text x="312.1" y="362.45" font-size="10.8" text-anchor="end" fill="#000" stroke="#000" stroke-width="0.3"  textLength="5.3" lengthAdjust="spacingAndGlyphs">7</text>
<line x1="314.2" y1="338.8" x2="316.2" y2="338.8" stroke="#999" stroke-width="1" />
<text x="312.1" y="343.2" font-size="10.8" text-anchor="end" fill="#000" stroke="#000" stroke-width="0.3"  textLength="5.3" lengthAdjust="spacingAndGlyphs">8</text>
<line x1="314.2" y1="319.55" x2="316.2" y2="319.55" stroke="#999" stroke-width="1" />
<text x="312.1" y="323.95" font-size="10.8" text-anchor="end" fill="#000" stroke="#000" stroke-width="0.3"  textLength="5.3" lengthAdjust="spacingAndGlyphs">9</text>
<line x1="355.91999999999996" y1="492.8" x2="355.91999999999996" y2="495.3" stroke="#6e6e6e" stroke-width="1" />
<line x1="395.64" y1="492.8" x2="395.64" y2="495.3" stroke="#6e6e6e" stroke-width="1" />
<line x1="435.36" y1="492.8" x2="435.36" y2="495.3" stroke="#6e6e6e" stroke-width="1" />
<line x1="475.08" y1="492.8" x2="475.08" y2="495.3" stroke="#6e6e6e" stroke-width="1" />
<line x1="514.8" y1="492.8" x2="514.8" y2="495.3" stroke="#6e6e6e" stroke-width="1" />
<rect x="325.10" y="473.50" width="11.30" height="19.30" fill="#000"/>
<line x1="330.75" y1="473.5" x2="330.75" y2="456.6" stroke="#000" stroke-width="1.0" />
<line x1="329.55" y1="456.6" x2="331.95" y2="456.6" stroke="#000" stroke-width="1.3" />
<rect x="336.80" y="492.40" width="10.60" height="0.40" fill="#8d8d8d" stroke="#5a5a5a" stroke-width="0.8"/>
<line x1="342.1" y1="492.0" x2="342.1" y2="491.8" stroke="#555" stroke-width="0.8" />
<line x1="341.1" y1="491.8" x2="343.1" y2="491.8" stroke="#555" stroke-width="1.1" />
<rect x="364.40" y="416.50" width="11.70" height="76.30" fill="#000"/>
<line x1="370.25" y1="416.5" x2="370.25" y2="342.7" stroke="#000" stroke-width="1.0" />
<line x1="369.05" y1="342.7" x2="371.45" y2="342.7" stroke="#000" stroke-width="1.3" />
<rect x="376.50" y="490.20" width="10.70" height="2.60" fill="#8d8d8d" stroke="#5a5a5a" stroke-width="0.8"/>
<line x1="381.85" y1="489.8" x2="381.85" y2="488.4" stroke="#555" stroke-width="0.8" />
<line x1="380.85" y1="488.4" x2="382.85" y2="488.4" stroke="#555" stroke-width="1.1" />
<rect x="404.40" y="470.00" width="11.40" height="22.80" fill="#000"/>
<line x1="410.1" y1="470.0" x2="410.1" y2="430.7" stroke="#000" stroke-width="1.0" />
<line x1="408.90000000000003" y1="430.7" x2="411.3" y2="430.7" stroke="#000" stroke-width="1.3" />
<rect x="416.20" y="490.50" width="10.90" height="2.30" fill="#8d8d8d" stroke="#5a5a5a" stroke-width="0.8"/>
<line x1="421.65" y1="490.1" x2="421.65" y2="485.5" stroke="#555" stroke-width="0.8" />
<line x1="420.65" y1="485.5" x2="422.65" y2="485.5" stroke="#555" stroke-width="1.1" />
<rect x="444.30" y="466.50" width="11.40" height="26.30" fill="#000"/>
<line x1="450.0" y1="466.5" x2="450.0" y2="426.3" stroke="#000" stroke-width="1.0" />
<line x1="448.8" y1="426.3" x2="451.2" y2="426.3" stroke="#000" stroke-width="1.3" />
<rect x="456.10" y="481.00" width="10.30" height="11.80" fill="#8d8d8d" stroke="#5a5a5a" stroke-width="0.8"/>
<line x1="461.25" y1="480.6" x2="461.25" y2="467.9" stroke="#555" stroke-width="0.8" />
<line x1="460.25" y1="467.9" x2="462.25" y2="467.9" stroke="#555" stroke-width="1.1" />
<rect x="483.90" y="476.80" width="11.40" height="16.00" fill="#000"/>
<line x1="489.6" y1="476.8" x2="489.6" y2="460.0" stroke="#000" stroke-width="1.0" />
<line x1="488.40000000000003" y1="460.0" x2="490.8" y2="460.0" stroke="#000" stroke-width="1.3" />
<rect x="495.70" y="491.30" width="10.60" height="1.50" fill="#8d8d8d" stroke="#5a5a5a" stroke-width="0.8"/>
<line x1="501.0" y1="490.9" x2="501.0" y2="489.4" stroke="#555" stroke-width="0.8" />
<line x1="500.0" y1="489.4" x2="502.0" y2="489.4" stroke="#555" stroke-width="1.1" />
<polyline points="329.5,453.2 329.5,449.5 341.8,449.5 341.8,453.2" fill="none" stroke="#000" stroke-width="1.55"/>
<text x="335.6" y="452.1" font-size="15.5" text-anchor="middle" fill="#000" stroke="#000" stroke-width="0.4" >*</text>
<polyline points="370.3,339.6 370.3,335.4 382.5,335.4 382.5,339.6" fill="none" stroke="#000" stroke-width="1.55"/>
<text x="376.4" y="338.40000000000003" font-size="15.5" text-anchor="middle" fill="#000" stroke="#000" stroke-width="0.4" >*</text>
<text transform="translate(324.50,506.0) scale(0.8978,1)" font-size="13" fill="#000" stroke="#000" stroke-width="0.3">pLN</text>
<text transform="translate(364.90,506.0) scale(0.9207,1)" font-size="13" fill="#000" stroke="#000" stroke-width="0.3">mLN</text>
<text transform="translate(398.50,506.0) scale(0.9357,1)" font-size="13" fill="#000" stroke="#000" stroke-width="0.3">Spleen</text>
<text transform="translate(446.20,506.0) scale(0.9012,1)" font-size="13" fill="#000" stroke="#000" stroke-width="0.3">Liver</text>
<text transform="translate(490.10,506.0) scale(0.8904,1)" font-size="13" fill="#000" stroke="#000" stroke-width="0.3">BM</text>
<rect x="477.30" y="344.50" width="7.50" height="8.40" fill="#000"/>
<text transform="translate(486.90,353) scale(0.9079,1)" font-size="13" fill="#000" stroke="#000" stroke-width="0.45">Tcm</text>
<rect x="477.30" y="361.50" width="7.50" height="8.10" fill="#a0a0a0"/>
<text transform="translate(487.10,369.7) scale(0.9017,1)" font-size="13" fill="#000" stroke="#000" stroke-width="0.45">CTL</text>
<g transform="translate(295.9,470.6) rotate(-90) scale(1.035,1)">
<text x="0" y="0" font-size="15.17" text-anchor="start" fill="#000" stroke="#000" stroke-width="0.3" >Cell</text>
<text x="33.24" y="0" font-size="15.17" text-anchor="start" fill="#000" stroke="#000" stroke-width="0.3"  textLength="43.0" lengthAdjust="spacingAndGlyphs">count</text>
<text x="80.39" y="0" font-size="14.88" text-anchor="start" fill="#000" stroke="#000" stroke-width="0.3" >(X10</text>
<text x="110.82" y="-9.3" font-size="11.59" text-anchor="start" fill="#000" stroke="#000" stroke-width="0.3" >3</text>
<text x="117.58" y="0" font-size="14.88" text-anchor="start" fill="#000" stroke="#000" stroke-width="0.3" >)</text>
</g>
<line x1="53.5" y1="555.8" x2="53.5" y2="720.1" stroke="#606060" stroke-width="1.2" />
<line x1="52.0" y1="719.6" x2="257.5" y2="719.6" stroke="#606060" stroke-width="1.5" />
<line x1="51.9" y1="719.3" x2="53.5" y2="719.3" stroke="#444" stroke-width="1.2" />
<text transform="translate(48.5,722.90) scale(1.1,1)" text-anchor="end" font-size="10.4" stroke="#000" stroke-width="0.3">0</text>
<line x1="48.6" y1="719.6999999999999" x2="50.1" y2="719.6999999999999" stroke="#111" stroke-width="1.3" />
<line x1="51.9" y1="702.99" x2="53.5" y2="702.99" stroke="#444" stroke-width="1.2" />
<text transform="translate(48.5,706.59) scale(1.1,1)" text-anchor="end" font-size="10.4" stroke="#000" stroke-width="0.3">2</text>
<line x1="48.6" y1="703.39" x2="50.1" y2="703.39" stroke="#111" stroke-width="1.3" />
<line x1="51.9" y1="686.68" x2="53.5" y2="686.68" stroke="#444" stroke-width="1.2" />
<text transform="translate(48.5,690.28) scale(1.1,1)" text-anchor="end" font-size="10.4" stroke="#000" stroke-width="0.3">4</text>
<line x1="48.6" y1="687.0799999999999" x2="50.1" y2="687.0799999999999" stroke="#111" stroke-width="1.3" />
<line x1="51.9" y1="670.37" x2="53.5" y2="670.37" stroke="#444" stroke-width="1.2" />
<text transform="translate(48.5,673.97) scale(1.1,1)" text-anchor="end" font-size="10.4" stroke="#000" stroke-width="0.3">6</text>
<line x1="48.6" y1="670.77" x2="50.1" y2="670.77" stroke="#111" stroke-width="1.3" />
<line x1="51.9" y1="654.06" x2="53.5" y2="654.06" stroke="#444" stroke-width="1.2" />
<text transform="translate(48.5,657.66) scale(1.1,1)" text-anchor="end" font-size="10.4" stroke="#000" stroke-width="0.3">8</text>
<line x1="48.6" y1="654.4599999999999" x2="50.1" y2="654.4599999999999" stroke="#111" stroke-width="1.3" />
<line x1="51.9" y1="637.75" x2="53.5" y2="637.75" stroke="#444" stroke-width="1.2" />
<text transform="translate(49.4,641.35) scale(1.1,1)" text-anchor="end" font-size="10.4" stroke="#000" stroke-width="0.3">10</text>
<line x1="51.9" y1="621.4399999999999" x2="53.5" y2="621.4399999999999" stroke="#444" stroke-width="1.2" />
<text transform="translate(49.4,625.04) scale(1.1,1)" text-anchor="end" font-size="10.4" stroke="#000" stroke-width="0.3">12</text>
<line x1="51.9" y1="605.13" x2="53.5" y2="605.13" stroke="#444" stroke-width="1.2" />
<text transform="translate(49.4,608.73) scale(1.1,1)" text-anchor="end" font-size="10.4" stroke="#000" stroke-width="0.3">14</text>
<line x1="51.9" y1="588.8199999999999" x2="53.5" y2="588.8199999999999" stroke="#444" stroke-width="1.2" />
<text transform="translate(49.4,592.42) scale(1.1,1)" text-anchor="end" font-size="10.4" stroke="#000" stroke-width="0.3">16</text>
<line x1="51.9" y1="572.51" x2="53.5" y2="572.51" stroke="#444" stroke-width="1.2" />
<text transform="translate(49.4,576.11) scale(1.1,1)" text-anchor="end" font-size="10.4" stroke="#000" stroke-width="0.3">18</text>
<line x1="51.9" y1="556.1999999999999" x2="53.5" y2="556.1999999999999" stroke="#444" stroke-width="1.2" />
<text transform="translate(49.4,559.80) scale(1.1,1)" text-anchor="end" font-size="10.4" stroke="#000" stroke-width="0.3">20</text>
<line x1="48.6" y1="556.5999999999999" x2="50.1" y2="556.5999999999999" stroke="#111" stroke-width="1.3" />
<line x1="159.5" y1="719.6" x2="159.5" y2="722.1" stroke="#6e6e6e" stroke-width="1" />
<rect x="76.20" y="711.90" width="30.50" height="7.70" fill="#222"/>
<line x1="91.5" y1="711.9" x2="91.5" y2="708.8" stroke="#222" stroke-width="0.9" />
<line x1="90.6" y1="708.8" x2="92.4" y2="708.8" stroke="#222" stroke-width="1.2" />
<rect x="107.10" y="651.50" width="29.20" height="68.10" fill="#8a8a8a" stroke="#666" stroke-width="0.8"/>
<line x1="122.0" y1="651.1" x2="122.0" y2="589.1" stroke="#222" stroke-width="1.1" />
<line x1="121.0" y1="589.1" x2="123.0" y2="589.1" stroke="#222" stroke-width="1.4000000000000001" />
<rect x="182.20" y="716.40" width="29.90" height="3.20" fill="#222"/>
<line x1="197" y1="716.4" x2="197" y2="715.3" stroke="#222" stroke-width="0.9" />
<line x1="196.1" y1="715.3" x2="197.9" y2="715.3" stroke="#222" stroke-width="1.2" />
<rect x="212.50" y="711.60" width="29.40" height="8.00" fill="#8a8a8a" stroke="#666" stroke-width="0.8"/>
<line x1="227" y1="711.2" x2="227" y2="703" stroke="#222" stroke-width="1.1" />
<line x1="226.0" y1="703" x2="228.0" y2="703" stroke="#222" stroke-width="1.4000000000000001" />
<polyline points="92.1,582.9 92.1,572.7 121.4,572.7 121.4,582.9" fill="none" stroke="#000" stroke-width="1.5"/>
<text x="107.6" y="574.0" font-size="15.5" text-anchor="middle" fill="#000" stroke="#000" stroke-width="0.4" >*</text>
<text transform="translate(95.40,735) scale(1.0088,1)" font-size="13.3" fill="#000" stroke="#000" stroke-width="0.3">Tcm</text>
<text transform="translate(200.80,735) scale(1.0128,1)" font-size="13.3" fill="#000" stroke="#000" stroke-width="0.3">CTL</text>
<rect x="183.30" y="571.20" width="4.70" height="8.70" fill="#111"/>
<text transform="translate(189.70,580) scale(0.6780,1)" font-size="13.6" fill="#000" stroke="#000" stroke-width="0.45">2d post trans'</text>
<rect x="183.30" y="588.60" width="4.70" height="8.60" fill="#a8a8a8"/>
<text transform="translate(189.70,597.3) scale(0.6780,1)" font-size="13.6" fill="#000" stroke="#000" stroke-width="0.45">7d post trans'</text>
<g transform="translate(25.1,694.9) rotate(-90) scale(1.035,1)">
<text x="0" y="0" font-size="15.17" text-anchor="start" fill="#000" stroke="#000" stroke-width="0.3" >cell count</text>
<text x="76.23" y="0" font-size="14.49" text-anchor="start" fill="#000" stroke="#000" stroke-width="0.3" >(X10</text>
<text x="106.96" y="-12.4" font-size="11.59" text-anchor="start" fill="#000" stroke="#000" stroke-width="0.3" >3</text>
<text x="112.85" y="0" font-size="14.49" text-anchor="start" fill="#000" stroke="#000" stroke-width="0.3" >)</text>
</g>
</svg>
</body></html>
